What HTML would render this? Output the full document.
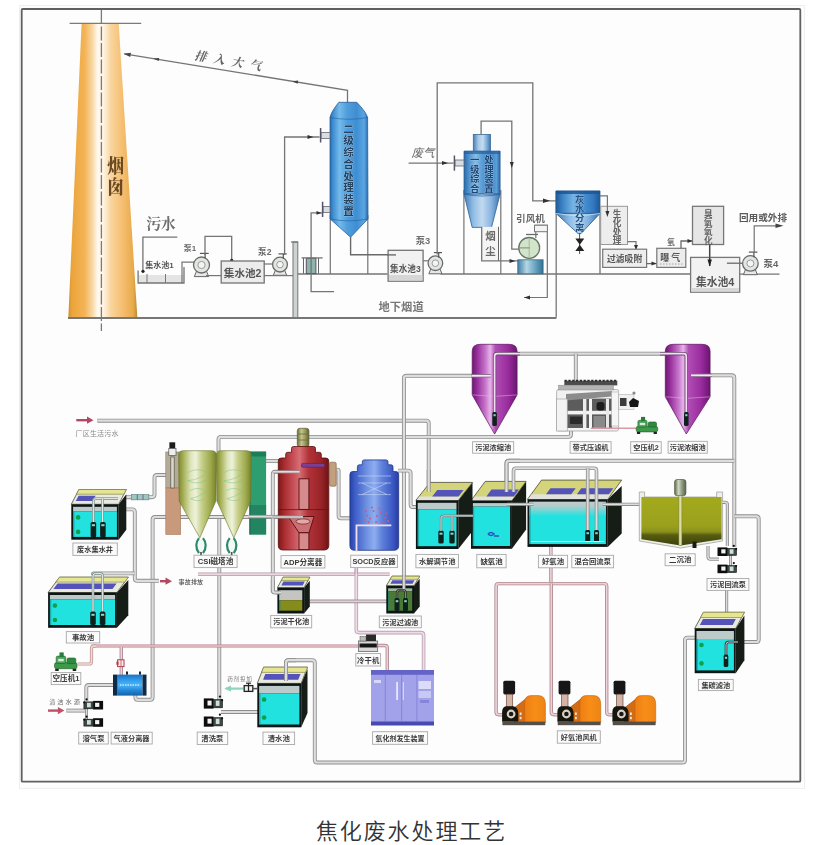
<!DOCTYPE html>
<html lang="zh-CN"><head><meta charset="utf-8"><title>焦化废水处理工艺</title>
<style>
html,body{margin:0;padding:0;background:#fff;}
body{width:838px;height:845px;overflow:hidden;position:relative;font-family:"Liberation Sans","Noto Sans CJK SC",sans-serif;}
#fig{position:absolute;left:0;top:0;width:838px;height:845px;display:block;}
#cap{position:absolute;left:0;top:815px;width:823px;text-align:center;font-size:22px;line-height:34px;letter-spacing:1.9px;color:#333;margin:0;font-weight:350;white-space:nowrap;}
</style></head><body>
<svg id="fig" width="838" height="845" viewBox="0 0 838 845">
<defs>
<filter id="soft" x="0" y="0" width="838" height="845" filterUnits="userSpaceOnUse"><feGaussianBlur stdDeviation="0.7"/></filter>
<linearGradient id="gCh" x1="0" y1="0" x2="1" y2="0"><stop offset="0" stop-color="#cf8f2c"/><stop offset="0.05" stop-color="#eba43a"/><stop offset="0.24" stop-color="#f3b458"/><stop offset="0.35" stop-color="#f9d9a6"/><stop offset="0.43" stop-color="#fffaf2"/><stop offset="0.51" stop-color="#fff3e2"/><stop offset="0.62" stop-color="#f9d49c"/><stop offset="0.8" stop-color="#f4bc6c"/><stop offset="0.94" stop-color="#e8aa4a"/><stop offset="1" stop-color="#b88a36"/></linearGradient>
<linearGradient id="gB1" x1="0" y1="0" x2="1" y2="0"><stop offset="0" stop-color="#2a6cb0"/><stop offset="0.08" stop-color="#3e8ed2"/><stop offset="0.25" stop-color="#74baea"/><stop offset="0.45" stop-color="#4f9edc"/><stop offset="0.7" stop-color="#3f8ed2"/><stop offset="0.9" stop-color="#5aa6e2"/><stop offset="1" stop-color="#2a6aae"/></linearGradient>
<linearGradient id="gB2" x1="0" y1="0" x2="1" y2="0"><stop offset="0" stop-color="#2a68a8"/><stop offset="0.12" stop-color="#4a8ecc"/><stop offset="0.32" stop-color="#86bce6"/><stop offset="0.5" stop-color="#5a9cd6"/><stop offset="0.75" stop-color="#3f86c8"/><stop offset="0.9" stop-color="#5a9ed8"/><stop offset="1" stop-color="#2a64a4"/></linearGradient>
<linearGradient id="gB2n" x1="0" y1="0" x2="1" y2="0"><stop offset="0" stop-color="#4a80b4"/><stop offset="0.3" stop-color="#a8cae6"/><stop offset="0.55" stop-color="#c4dcf0"/><stop offset="0.8" stop-color="#7aaad6"/><stop offset="1" stop-color="#3f76ac"/></linearGradient>
<linearGradient id="gB2c" x1="0" y1="0" x2="1" y2="0"><stop offset="0" stop-color="#3f7cb8"/><stop offset="0.25" stop-color="#8fbce4"/><stop offset="0.5" stop-color="#c2daf0"/><stop offset="0.75" stop-color="#8ab6e0"/><stop offset="1" stop-color="#3a74b0"/></linearGradient>
<linearGradient id="gFb" x1="0" y1="0" x2="1" y2="0"><stop offset="0" stop-color="#3f7fa4"/><stop offset="0.35" stop-color="#b4d6e4"/><stop offset="0.6" stop-color="#7ab2cc"/><stop offset="1" stop-color="#2f7296"/></linearGradient>
<linearGradient id="gB3" x1="0" y1="0" x2="1" y2="0"><stop offset="0" stop-color="#1f5c9a"/><stop offset="0.15" stop-color="#3c84c6"/><stop offset="0.4" stop-color="#78b4e4"/><stop offset="0.6" stop-color="#4c94d4"/><stop offset="0.85" stop-color="#3278be"/><stop offset="1" stop-color="#1e5896"/></linearGradient>
<linearGradient id="gB3c" x1="0" y1="0" x2="1" y2="0"><stop offset="0" stop-color="#3a78b6"/><stop offset="0.3" stop-color="#8cbce6"/><stop offset="0.5" stop-color="#b4d4f0"/><stop offset="0.75" stop-color="#7cb0e0"/><stop offset="1" stop-color="#3270ae"/></linearGradient>
<linearGradient id="gWg" x1="0" y1="0" x2="0" y2="1"><stop offset="0" stop-color="#c2cccc"/><stop offset="0.3" stop-color="#b4cccc"/><stop offset="1" stop-color="#24e2e0"/></linearGradient>
<linearGradient id="gHx" x1="0" y1="0" x2="0" y2="1"><stop offset="0" stop-color="#1a72c4"/><stop offset="0.3" stop-color="#34a0ee"/><stop offset="0.5" stop-color="#4cb4f6"/><stop offset="0.75" stop-color="#2488d8"/><stop offset="1" stop-color="#1660a8"/></linearGradient>
<linearGradient id="gCone" x1="0" y1="0" x2="1" y2="0"><stop offset="0" stop-color="#7e8a30"/><stop offset="0.12" stop-color="#a4ae54"/><stop offset="0.32" stop-color="#dde4b8"/><stop offset="0.45" stop-color="#eef2dc"/><stop offset="0.62" stop-color="#c6ce88"/><stop offset="0.84" stop-color="#9eaa4c"/><stop offset="1" stop-color="#76822a"/></linearGradient>
<linearGradient id="gRed" x1="0" y1="0" x2="1" y2="0"><stop offset="0" stop-color="#7a1818"/><stop offset="0.1" stop-color="#a42a2c"/><stop offset="0.3" stop-color="#c85058"/><stop offset="0.42" stop-color="#d66e74"/><stop offset="0.6" stop-color="#b23238"/><stop offset="0.85" stop-color="#982428"/><stop offset="1" stop-color="#701414"/></linearGradient>
<linearGradient id="gMot" x1="0" y1="0" x2="1" y2="0"><stop offset="0" stop-color="#6e6e3c"/><stop offset="0.35" stop-color="#c4c48c"/><stop offset="0.6" stop-color="#a4a464"/><stop offset="1" stop-color="#626234"/></linearGradient>
<linearGradient id="gBlu" x1="0" y1="0" x2="1" y2="0"><stop offset="0" stop-color="#2a42a6"/><stop offset="0.1" stop-color="#3c5cc6"/><stop offset="0.33" stop-color="#6c8ee0"/><stop offset="0.5" stop-color="#8eaef0"/><stop offset="0.66" stop-color="#5e80da"/><stop offset="0.88" stop-color="#3a58c4"/><stop offset="1" stop-color="#283e9e"/></linearGradient>
<linearGradient id="gPur" x1="0" y1="0" x2="1" y2="0"><stop offset="0" stop-color="#6e1a72"/><stop offset="0.1" stop-color="#932a98"/><stop offset="0.3" stop-color="#c878cc"/><stop offset="0.4" stop-color="#e6b4e8"/><stop offset="0.52" stop-color="#b04cb4"/><stop offset="0.8" stop-color="#9a2c9e"/><stop offset="1" stop-color="#6a1670"/></linearGradient>
<linearGradient id="gMo2" x1="0" y1="0" x2="1" y2="0"><stop offset="0" stop-color="#5e6a50"/><stop offset="0.35" stop-color="#cfd6c2"/><stop offset="0.6" stop-color="#98a488"/><stop offset="1" stop-color="#56624a"/></linearGradient>
<linearGradient id="gOl" x1="0" y1="0" x2="0" y2="1"><stop offset="0" stop-color="#a4aa1e"/><stop offset="0.6" stop-color="#9aa01c"/><stop offset="0.72" stop-color="#8a901a"/><stop offset="0.78" stop-color="#565c12"/><stop offset="1" stop-color="#3c420e"/></linearGradient>
<linearGradient id="gOr" x1="0" y1="0" x2="1" y2="0"><stop offset="0" stop-color="#ee7e12"/><stop offset="0.5" stop-color="#f88e18"/><stop offset="1" stop-color="#ee8414"/></linearGradient>
</defs>
<g filter="url(#soft)">
<rect x="19.5" y="5.5" width="785.1" height="782.9" fill="#fdfdfd" stroke="#eeeeee" stroke-width="1" />
<rect x="21.7" y="9.0" width="778.6" height="772.7" fill="none" stroke="#606062" stroke-width="1.8" rx="1"/>
<polygon points="81.6,23.4 118.7,23.4 137.4,318.4 68.3,318.4" fill="url(#gCh)" stroke="none" stroke-width="1" />
<polyline points="69.6,23.4 141.2,23.4" fill="none" stroke="#7a7a7a" stroke-width="1.2" />
<polyline points="101.4,10.0 101.4,331.0" fill="none" stroke="#7a7a7a" stroke-width="1.3" stroke-dasharray="14 2.5"/>
<polyline points="68.0,318.0 556.4,318.0" fill="none" stroke="#777" stroke-width="2" />
<g transform="translate(115.7 0) scale(0.86 1)">
<text font-size="19.5" fill="#6a4a22" text-anchor="middle" font-family='"Liberation Serif","Noto Serif CJK SC",serif' font-weight="900" ><tspan x="0.0" y="173.2">烟</tspan><tspan x="0.0" y="194.5">囱</tspan></text>
</g>
<polyline points="124.3,53.8 347.5,90.3 347.5,103.0" fill="none" stroke="#747474" stroke-width="1.3" />
<polygon points="123.6,53.7 130.9,52.7 130.2,57.0" fill="#444" stroke="none" stroke-width="1" />
<polygon points="153.0,58.5 159.2,57.9 158.7,61.0" fill="#444" stroke="none" stroke-width="1" />
<polygon points="292.0,81.2 298.2,80.6 297.7,83.7" fill="#444" stroke="none" stroke-width="1" />
<g transform="translate(194 59.5) rotate(9.3)">
<text x="0.0" y="0.0" font-size="12" fill="#666" text-anchor="start" font-family='"Liberation Serif","Noto Serif CJK SC",serif' font-weight="bold" letter-spacing="6.5" font-style="italic">排入大气</text>
</g>
<text x="146.3" y="229.0" font-size="15" fill="#6e6e6e" text-anchor="start" font-family='"Liberation Serif","Noto Serif CJK SC",serif' font-weight="bold" letter-spacing="-0.6">污水</text>
<polyline points="177.3,237.2 142.9,237.2 142.9,271.0" fill="none" stroke="#747474" stroke-width="1.3" />
<circle cx="143.0" cy="271.3" r="1.6" fill="#222" stroke="none" stroke-width="1" />
<rect x="138.5" y="275.0" width="45.0" height="8.0" fill="#e4e4e4" stroke="none" stroke-width="1" />
<polyline points="138.1,270.5 138.1,283.0 184.0,283.0 184.0,267.0" fill="none" stroke="#747474" stroke-width="1.3" />
<polyline points="147.0,274.0 147.0,283.0" fill="none" stroke="#777" stroke-width="1" />
<polyline points="165.5,274.0 165.5,283.0" fill="none" stroke="#777" stroke-width="1" />
<text x="159.5" y="268.0" font-size="8" fill="#555" text-anchor="middle" font-family='"Liberation Sans","Noto Sans CJK SC",sans-serif' font-weight="bold" >集水池1</text>
<polyline points="182.0,283.0 182.0,262.2 194.5,262.2" fill="none" stroke="#747474" stroke-width="1.2" />
<polygon points="194.3,276.6 208.7,276.6 205.9,269.8 197.1,269.8" fill="#e8e8e8" stroke="#666" stroke-width="1" />
<circle cx="201.5" cy="265.0" r="8.0" fill="#e2e6e2" stroke="#6a6a6a" stroke-width="1.3" />
<circle cx="201.5" cy="265.0" r="3.6" fill="#f4f4f4" stroke="#888" stroke-width="0.8" />
<polyline points="199.9,253.4 208.7,253.4" fill="none" stroke="#555" stroke-width="1.2" />
<polyline points="205.1,253.4 205.1,258.6" fill="none" stroke="#555" stroke-width="1.2" />
<text x="190.0" y="251.3" font-size="8" fill="#666" text-anchor="middle" font-family='"Liberation Sans","Noto Sans CJK SC",sans-serif' font-weight="bold" >泵1</text>
<polyline points="205.0,255.0 205.0,236.3 231.7,236.3 231.7,260.0" fill="none" stroke="#747474" stroke-width="1.3" />
<circle cx="231.7" cy="260.3" r="1.6" fill="#222" stroke="none" stroke-width="1" />
<polyline points="206.0,275.6 221.2,275.6" fill="none" stroke="#747474" stroke-width="1.2" />
<rect x="221.2" y="261.0" width="43.0" height="22.0" fill="#ececec" stroke="#747474" stroke-width="1.3" />
<text x="242.7" y="277.4" font-size="10.6" fill="#555" text-anchor="middle" font-family='"Liberation Sans","Noto Sans CJK SC",sans-serif' font-weight="bold" >集水池2</text>
<polyline points="264.2,264.0 272.5,264.0" fill="none" stroke="#747474" stroke-width="1.2" />
<polygon points="273.3,275.3 286.7,275.3 284.1,269.0 275.9,269.0" fill="#e8e8e8" stroke="#666" stroke-width="1" />
<circle cx="280.0" cy="264.6" r="7.4" fill="#e2e6e2" stroke="#6a6a6a" stroke-width="1.3" />
<circle cx="280.0" cy="264.6" r="3.3" fill="#f4f4f4" stroke="#888" stroke-width="0.8" />
<polyline points="278.5,253.9 286.7,253.9" fill="none" stroke="#555" stroke-width="1.2" />
<polyline points="283.3,253.9 283.3,258.7" fill="none" stroke="#555" stroke-width="1.2" />
<text x="264.8" y="254.8" font-size="8.6" fill="#6a6a6a" text-anchor="middle" font-family='"Liberation Sans","Noto Sans CJK SC",sans-serif' font-weight="bold" >泵2</text>
<polyline points="284.6,255.0 284.6,137.0 319.5,137.0" fill="none" stroke="#747474" stroke-width="1.3" />
<polygon points="313.5,137.0 307.5,139.0 307.5,135.0" fill="#333" stroke="none" stroke-width="1" />
<polyline points="264.2,275.6 293.0,275.6" fill="none" stroke="#747474" stroke-width="1.2" />
<rect x="293.0" y="242.0" width="4.8" height="75.5" fill="#cfd3d3" stroke="#777" stroke-width="1" />
<polyline points="291.0,242.0 298.0,242.0" fill="none" stroke="#747474" stroke-width="1.2" />
<polyline points="297.8,274.0 387.5,274.0" fill="none" stroke="#747474" stroke-width="1.3" />
<rect x="306.3" y="258.3" width="9.6" height="15.3" fill="#8fb3ad" stroke="#556" stroke-width="1" />
<polyline points="301.6,257.9 322.6,257.9" fill="none" stroke="#747474" stroke-width="1.3" />
<polyline points="303.5,258.0 303.5,273.6" fill="none" stroke="#666" stroke-width="1" />
<polyline points="318.5,258.0 318.5,273.6" fill="none" stroke="#666" stroke-width="1" />
<polyline points="322.7,212.9 311.1,212.9 311.1,291.7 334.0,291.7" fill="none" stroke="#747474" stroke-width="1.3" />
<polygon points="321.5,212.9 316.5,214.7 316.5,211.1" fill="#333" stroke="none" stroke-width="1" />
<polyline points="330.3,215.0 330.3,274.0" fill="none" stroke="#747474" stroke-width="1.2" />
<polyline points="367.8,215.0 367.8,274.0" fill="none" stroke="#747474" stroke-width="1.2" />
<path d="M330,117.5 Q331,112 338.8,102.3 L356.8,102.3 Q366,112 367.6,117.5 L368,218.8 L350.6,237.2 L330,218.8 Z" fill="url(#gB1)" stroke="#2a5f98" stroke-width="0.8" />
<path d="M330,117.5 Q349,121 367.6,117.5" fill="none" stroke="#1d5c9c" stroke-width="0.8" opacity="0.7"/>
<path d="M330,218.8 Q349,223 368,218.8" fill="none" stroke="#1d5c9c" stroke-width="0.8" opacity="0.7"/>
<text font-size="10.6" fill="#27425f" text-anchor="middle" font-family='"Liberation Sans","Noto Sans CJK SC",sans-serif' font-weight="bold" stroke="#b4d8f2" stroke-width="0.5" paint-order="stroke"><tspan x="348.5" y="132.7">二</tspan><tspan x="348.5" y="144.4">级</tspan><tspan x="348.5" y="156.2">综</tspan><tspan x="348.5" y="167.9">合</tspan><tspan x="348.5" y="179.7">处</tspan><tspan x="348.5" y="191.4">理</tspan><tspan x="348.5" y="203.2">装</tspan><tspan x="348.5" y="214.9">置</tspan></text>
<rect x="321.0" y="132.6" width="9.0" height="5.8" fill="#d8dde0" stroke="#667" stroke-width="0.8" />
<polyline points="320.6,128.0 320.6,142.5" fill="none" stroke="#556" stroke-width="1.5" />
<rect x="323.0" y="206.5" width="7.0" height="6.0" fill="#d8dde0" stroke="#667" stroke-width="0.8" />
<polyline points="322.6,201.7 322.6,217.0" fill="none" stroke="#556" stroke-width="1.5" />
<polyline points="350.6,237.0 350.6,254.8 395.0,254.8" fill="none" stroke="#6a6a6a" stroke-width="1.4" />
<rect x="388.1" y="250.3" width="35.0" height="30.9" fill="#f2f2f2" stroke="#747474" stroke-width="1.3" />
<rect x="389.0" y="275.0" width="33.4" height="5.6" fill="#d6d6d6" stroke="none" stroke-width="1" />
<text x="405.4" y="271.8" font-size="8.6" fill="#555" text-anchor="middle" font-family='"Liberation Sans","Noto Sans CJK SC",sans-serif' font-weight="bold" >集水池3</text>
<polyline points="387.0,254.9 396.0,254.9" fill="none" stroke="#6a6a6a" stroke-width="1.4" />
<polyline points="423.1,260.8 428.5,260.8" fill="none" stroke="#747474" stroke-width="1.2" />
<polygon points="428.8,273.8 442.0,273.8 439.4,267.6 431.4,267.6" fill="#e8e8e8" stroke="#666" stroke-width="1" />
<circle cx="435.4" cy="263.2" r="7.3" fill="#e2e6e2" stroke="#6a6a6a" stroke-width="1.3" />
<circle cx="435.4" cy="263.2" r="3.3" fill="#f4f4f4" stroke="#888" stroke-width="0.8" />
<polyline points="433.9,252.6 442.0,252.6" fill="none" stroke="#555" stroke-width="1.2" />
<polyline points="438.7,252.6 438.7,257.4" fill="none" stroke="#555" stroke-width="1.2" />
<text x="423.0" y="243.6" font-size="9.4" fill="#707070" text-anchor="middle" font-family='"Liberation Sans","Noto Sans CJK SC",sans-serif' font-weight="bold" >泵3</text>
<polyline points="437.2,254.5 437.2,82.9 532.8,82.9 532.8,200.8 556.0,200.8" fill="none" stroke="#747474" stroke-width="1.3" />
<polygon points="550.0,200.8 543.0,203.0 543.0,198.6" fill="#333" stroke="none" stroke-width="1" />
<polyline points="440.6,274.0 690.6,274.0" fill="none" stroke="#747474" stroke-width="1.3" />
<text x="378.5" y="310.6" font-size="11.3" fill="#777" text-anchor="start" font-family='"Liberation Sans","Noto Sans CJK SC",sans-serif' font-weight="bold" >地下烟道</text>
<text x="411.5" y="157.3" font-size="11.5" fill="#666" text-anchor="start" font-family='"Liberation Sans","Noto Sans CJK SC",sans-serif' font-weight="normal" font-style="italic">废气</text>
<polyline points="408.6,163.1 453.5,163.1" fill="none" stroke="#747474" stroke-width="1.2" />
<polygon points="448.0,163.1 442.0,165.1 442.0,161.1" fill="#333" stroke="none" stroke-width="1" />
<polyline points="463.9,190.0 463.9,274.0" fill="none" stroke="#747474" stroke-width="1.2" />
<polyline points="500.8,190.0 500.8,274.0" fill="none" stroke="#747474" stroke-width="1.2" />
<rect x="473.3" y="134.4" width="17.2" height="17.6" fill="url(#gB2n)" stroke="#3a6a98" stroke-width="0.8" />
<path d="M464,151.1 L500.1,151.1 L500.1,194.1 L464,194.1 Z" fill="url(#gB2)" stroke="#2f6298" stroke-width="0.8" />
<rect x="464.0" y="151.1" width="36.1" height="2.9" fill="#24609e" stroke="none" stroke-width="1" opacity="0.7"/>
<path d="M464,194.1 L500.1,194.1 L491.5,227.4 L472.2,227.4 Z" fill="url(#gB2c)" stroke="#2f6298" stroke-width="0.8" />
<path d="M464,194.1 Q482,198 500.1,194.1" fill="none" stroke="#2a5c94" stroke-width="0.9" opacity="0.8"/>
<text font-size="9.4" fill="#1f4674" text-anchor="middle" font-family='"Liberation Sans","Noto Sans CJK SC",sans-serif' font-weight="bold" stroke="#a9d0ee" stroke-width="0.5" paint-order="stroke"><tspan x="474.8" y="163.4">一</tspan><tspan x="474.8" y="172.9">级</tspan><tspan x="474.8" y="182.4">综</tspan><tspan x="474.8" y="191.9">合</tspan></text>
<text font-size="9.4" fill="#1f4674" text-anchor="middle" font-family='"Liberation Sans","Noto Sans CJK SC",sans-serif' font-weight="bold" stroke="#a9d0ee" stroke-width="0.5" paint-order="stroke"><tspan x="489.0" y="163.4">处</tspan><tspan x="489.0" y="172.9">理</tspan><tspan x="489.0" y="182.4">装</tspan><tspan x="489.0" y="191.9">置</tspan></text>
<rect x="455.0" y="160.0" width="9.0" height="6.0" fill="#d8dde0" stroke="#667" stroke-width="0.8" />
<polyline points="454.4,155.5 454.4,170.7" fill="none" stroke="#556" stroke-width="1.5" />
<polyline points="481.1,134.4 481.1,121.1 511.8,121.1 511.8,249.2 519.0,249.2" fill="none" stroke="#747474" stroke-width="1.3" />
<polygon points="511.8,168.0 509.8,162.0 513.8,162.0" fill="#333" stroke="none" stroke-width="1" />
<rect x="481.7" y="226.8" width="16.6" height="33.4" fill="#f4f4f4" stroke="none" stroke-width="1" />
<polyline points="481.7,226.8 481.7,260.8 519.0,260.8" fill="none" stroke="#747474" stroke-width="1.3" />
<polyline points="498.5,226.8 498.5,260.8" fill="none" stroke="#666" stroke-width="1" />
<polygon points="515.5,261.0 509.5,263.0 509.5,259.0" fill="#333" stroke="none" stroke-width="1" />
<text font-size="10.5" fill="#6a6a6a" text-anchor="middle" font-family='"Liberation Sans","Noto Sans CJK SC",sans-serif' font-weight="bold" ><tspan x="490.4" y="240.2">烟</tspan><tspan x="490.4" y="255.2">尘</tspan></text>
<text x="530.5" y="221.5" font-size="9.6" fill="#666" text-anchor="middle" font-family='"Liberation Sans","Noto Sans CJK SC",sans-serif' font-weight="bold" >引风机</text>
<polyline points="535.8,238.0 535.8,225.4 547.3,225.4 547.3,297.5 524.0,297.5" fill="none" stroke="#747474" stroke-width="1.2" />
<polygon points="524.0,297.5 530.0,295.5 530.0,299.5" fill="#333" stroke="none" stroke-width="1" />
<polyline points="526.0,234.5 538.0,234.5" fill="none" stroke="#6a6a6a" stroke-width="1.3" />
<rect x="517.8" y="259.8" width="25.3" height="14.0" fill="url(#gFb)" stroke="#3a6a80" stroke-width="0.8" />
<rect x="534.5" y="225.2" width="12.9" height="6.5" fill="#f4f4f4" stroke="#777" stroke-width="1" />
<circle cx="529.2" cy="247.9" r="10.4" fill="#d2e5cb" stroke="#667766" stroke-width="1.3" />
<polyline points="519.0,247.9 530.0,247.9" fill="none" stroke="#7a8a78" stroke-width="1" />
<polyline points="529.2,239.0 529.2,257.0" fill="none" stroke="#9aaa98" stroke-width="0.8" />
<polyline points="556.2,191.0 556.2,317.6" fill="none" stroke="#777" stroke-width="1.3" />
<polyline points="600.0,213.0 600.0,274.0" fill="none" stroke="#747474" stroke-width="1.3" />
<path d="M556,190.9 L600,190.9 L600,213.4 L556,213.4 Z" fill="url(#gB3)" stroke="#245a92" stroke-width="0.8" />
<rect x="556.0" y="190.9" width="44.0" height="3.1" fill="#1c5490" stroke="none" stroke-width="1" opacity="0.8"/>
<path d="M556,213.4 L600,213.4 L581,233.6 L578,233.6 Z" fill="url(#gB3c)" stroke="#245a92" stroke-width="0.8" />
<path d="M556,213.4 Q578,217.5 600,213.4" fill="none" stroke="#d6eafa" stroke-width="0.9" opacity="0.8"/>
<text font-size="9.4" fill="#24507f" text-anchor="middle" font-family='"Liberation Sans","Noto Sans CJK SC",sans-serif' font-weight="bold" stroke="#a9d0ee" stroke-width="0.5" paint-order="stroke"><tspan x="579.6" y="202.6">灰</tspan><tspan x="579.6" y="211.9">水</tspan><tspan x="579.6" y="221.2">分</tspan><tspan x="579.6" y="230.5">离</tspan></text>
<polyline points="579.6,233.0 579.6,254.0" fill="none" stroke="#555" stroke-width="1" />
<polygon points="575.3,238.6 584.3,238.6 579.8,244.8" fill="#222" stroke="none" stroke-width="1" />
<polygon points="575.3,251.0 584.3,251.0 579.8,244.8" fill="#222" stroke="none" stroke-width="1" />
<rect x="600.7" y="206.3" width="26.8" height="38.2" fill="#ededed" stroke="#999" stroke-width="1" />
<text font-size="8.6" fill="#666" text-anchor="middle" font-family='"Liberation Sans","Noto Sans CJK SC",sans-serif' font-weight="bold" ><tspan x="617.0" y="216.5">生</tspan><tspan x="617.0" y="225.5">化</tspan><tspan x="617.0" y="234.5">处</tspan><tspan x="617.0" y="243.5">理</tspan></text>
<polyline points="600.0,195.8 607.4,195.8 607.4,213.0" fill="none" stroke="#747474" stroke-width="1.2" />
<polygon points="607.4,217.0 605.4,211.0 609.4,211.0" fill="#333" stroke="none" stroke-width="1" />
<polyline points="627.5,241.6 636.0,241.6 636.0,249.2" fill="none" stroke="#747474" stroke-width="1.2" />
<polygon points="636.0,250.0 634.0,245.0 638.0,245.0" fill="#333" stroke="none" stroke-width="1" />
<rect x="602.7" y="249.2" width="43.9" height="18.2" fill="#ededed" stroke="#777" stroke-width="1.2" />
<text x="624.6" y="262.0" font-size="8.8" fill="#555" text-anchor="middle" font-family='"Liberation Sans","Noto Sans CJK SC",sans-serif' font-weight="bold" >过滤吸附</text>
<polyline points="646.6,263.6 656.8,263.6" fill="none" stroke="#6a6a6a" stroke-width="1.3" />
<polygon points="656.5,263.6 651.5,265.6 651.5,261.6" fill="#333" stroke="none" stroke-width="1" />
<rect x="656.8" y="248.3" width="29.0" height="19.1" fill="#ececec" stroke="#777" stroke-width="1.2" />
<text x="671.3" y="260.8" font-size="9" fill="#555" text-anchor="middle" font-family='"Liberation Sans","Noto Sans CJK SC",sans-serif' font-weight="bold" letter-spacing="2">曝气</text>
<polyline points="660.0,264.0 683.0,264.0" fill="none" stroke="#999" stroke-width="0.8" stroke-dasharray="1.5 1.5"/>
<text x="671.0" y="245.0" font-size="7.5" fill="#666" text-anchor="middle" font-family='"Liberation Sans","Noto Sans CJK SC",sans-serif' font-weight="bold" >氧</text>
<polyline points="681.0,248.3 681.0,241.0 692.5,241.0" fill="none" stroke="#6a6a6a" stroke-width="1.3" />
<polygon points="692.5,241.0 687.5,243.0 687.5,239.0" fill="#333" stroke="none" stroke-width="1" />
<rect x="692.5" y="206.3" width="31.1" height="38.2" fill="#e6e6e6" stroke="#777" stroke-width="1.3" />
<text font-size="8.6" fill="#666" text-anchor="middle" font-family='"Liberation Sans","Noto Sans CJK SC",sans-serif' font-weight="bold" ><tspan x="708.4" y="216.8">臭</tspan><tspan x="708.4" y="225.7">氧</tspan><tspan x="708.4" y="234.6">氧</tspan><tspan x="708.4" y="243.5">化</tspan></text>
<polyline points="709.7,244.5 709.7,262.0" fill="none" stroke="#444" stroke-width="1.5" />
<polygon points="709.7,266.0 707.5,259.0 711.9,259.0" fill="#222" stroke="none" stroke-width="1" />
<rect x="690.6" y="257.4" width="49.1" height="34.8" fill="#f2f2f2" stroke="#777" stroke-width="1.3" />
<rect x="691.4" y="288.0" width="47.6" height="3.6" fill="#d8d8d8" stroke="none" stroke-width="1" />
<text x="715.2" y="285.6" font-size="10.8" fill="#555" text-anchor="middle" font-family='"Liberation Sans","Noto Sans CJK SC",sans-serif' font-weight="bold" >集水池4</text>
<polyline points="709.7,257.4 709.7,266.0" fill="none" stroke="#333" stroke-width="1.5" />
<polygon points="709.7,266.5 707.5,259.5 711.9,259.5" fill="#222" stroke="none" stroke-width="1" />
<polyline points="726.9,263.2 743.1,263.2" fill="none" stroke="#6a6a6a" stroke-width="1.3" />
<polyline points="739.7,274.1 779.5,274.1" fill="none" stroke="#747474" stroke-width="1.3" />
<polygon points="743.4,274.7 757.4,274.7 754.7,268.1 746.1,268.1" fill="#e8e8e8" stroke="#666" stroke-width="1" />
<circle cx="750.4" cy="263.4" r="7.8" fill="#e2e6e2" stroke="#6a6a6a" stroke-width="1.3" />
<circle cx="750.4" cy="263.4" r="3.5" fill="#f4f4f4" stroke="#888" stroke-width="0.8" />
<polyline points="748.8,252.1 757.4,252.1" fill="none" stroke="#555" stroke-width="1.2" />
<polyline points="753.9,252.1 753.9,257.2" fill="none" stroke="#555" stroke-width="1.2" />
<text x="771.0" y="267.0" font-size="9.5" fill="#666" text-anchor="middle" font-family='"Liberation Sans","Noto Sans CJK SC",sans-serif' font-weight="bold" >泵4</text>
<polyline points="754.2,253.0 754.2,225.8 780.0,225.8" fill="none" stroke="#747474" stroke-width="1.2" />
<polygon points="783.5,225.8 775.5,228.0 775.5,223.6" fill="#444" stroke="none" stroke-width="1" />
<text x="763.0" y="221.3" font-size="9.6" fill="#5a5a5a" text-anchor="middle" font-family='"Liberation Sans","Noto Sans CJK SC",sans-serif' font-weight="bold" >回用或外排</text>
<polyline points="76.3,420.2 88.5,420.2" fill="none" stroke="#b24a62" stroke-width="2.4" />
<polygon points="93.5,420.2 87.0,416.6 87.0,423.8" fill="#b24a62" stroke="none" stroke-width="1" />
<path d="M97.3,420.7 L426.1,420.7 Q428.7,420.7 428.7,423.3 L428.7,492.0" fill="none" stroke="#8e8e8e" stroke-width="3.9"/>
<path d="M97.3,420.7 L426.1,420.7 Q428.7,420.7 428.7,423.3 L428.7,492.0" fill="none" stroke="#dddddd" stroke-width="2.2"/>
<text x="75.5" y="435.8" font-size="7" fill="#8a8a8a" text-anchor="start" font-family='"Liberation Sans","Noto Sans CJK SC",sans-serif' font-weight="normal" letter-spacing="0.2">厂区生活污水</text>
<path d="M218.5,452.0 L218.5,439.5 Q218.5,436.9 221.1,436.9 L568.4,436.9 Q571.0,436.9 571.0,434.3 L571.0,419.7" fill="none" stroke="#8e8e8e" stroke-width="3.9"/>
<path d="M218.5,452.0 L218.5,439.5 Q218.5,436.9 221.1,436.9 L568.4,436.9 Q571.0,436.9 571.0,434.3 L571.0,419.7" fill="none" stroke="#dddddd" stroke-width="2.2"/>
<path d="M403.9,589.0 L403.9,378.4 Q403.9,375.8 406.5,375.8 L491.0,375.8" fill="none" stroke="#8e8e8e" stroke-width="3.9"/>
<path d="M403.9,589.0 L403.9,378.4 Q403.9,375.8 406.5,375.8 L491.0,375.8" fill="none" stroke="#dddddd" stroke-width="2.2"/>
<path d="M494.6,425.0 L494.6,356.3 Q494.6,353.7 497.2,353.7 L683.7,353.7 Q686.3,353.7 686.3,356.3 L686.3,425.0" fill="none" stroke="#8e8e8e" stroke-width="3.9"/>
<path d="M494.6,425.0 L494.6,356.3 Q494.6,353.7 497.2,353.7 L683.7,353.7 Q686.3,353.7 686.3,356.3 L686.3,425.0" fill="none" stroke="#dddddd" stroke-width="2.2"/>
<path d="M575.8,353.7 L575.8,382.0" fill="none" stroke="#8e8e8e" stroke-width="3.9"/>
<path d="M575.8,353.7 L575.8,382.0" fill="none" stroke="#dddddd" stroke-width="2.2"/>
<path d="M691.0,375.3 L731.7,375.3 Q734.3,375.3 734.3,377.9 L734.3,547.0" fill="none" stroke="#8e8e8e" stroke-width="3.9"/>
<path d="M691.0,375.3 L731.7,375.3 Q734.3,375.3 734.3,377.9 L734.3,547.0" fill="none" stroke="#dddddd" stroke-width="2.2"/>
<path d="M506.5,492.0 L506.5,463.4 Q506.5,460.8 509.1,460.8 L734.3,460.8" fill="none" stroke="#8e8e8e" stroke-width="3.9"/>
<path d="M506.5,492.0 L506.5,463.4 Q506.5,460.8 509.1,460.8 L734.3,460.8" fill="none" stroke="#dddddd" stroke-width="2.2"/>
<path d="M734.3,516.3 L756.1,516.3 Q758.7,516.3 758.7,518.9 L758.7,639.4 Q758.7,642.0 756.1,642.0 L729.6,642.0 Q727.0,642.0 727.0,644.6 L727.0,655.0" fill="none" stroke="#8e8e8e" stroke-width="3.9"/>
<path d="M734.3,516.3 L756.1,516.3 Q758.7,516.3 758.7,518.9 L758.7,639.4 Q758.7,642.0 756.1,642.0 L729.6,642.0 Q727.0,642.0 727.0,644.6 L727.0,655.0" fill="none" stroke="#dddddd" stroke-width="2.2"/>
<path d="M300.0,517.0 L155.2,517.0 Q152.6,517.0 152.6,519.6 L152.6,697.2 Q152.6,699.8 150.0,699.8 L138.0,699.8 Q135.4,699.8 135.4,697.2 L135.4,693.0" fill="none" stroke="#8e8e8e" stroke-width="3.9"/>
<path d="M300.0,517.0 L155.2,517.0 Q152.6,517.0 152.6,519.6 L152.6,697.2 Q152.6,699.8 150.0,699.8 L138.0,699.8 Q135.4,699.8 135.4,697.2 L135.4,693.0" fill="none" stroke="#dddddd" stroke-width="2.2"/>
<path d="M219.3,519.0 L219.3,701.0" fill="none" stroke="#8e8e8e" stroke-width="3.9"/>
<path d="M219.3,519.0 L219.3,701.0" fill="none" stroke="#dddddd" stroke-width="2.2"/>
<path d="M272.8,592.5 L272.8,474.4 Q272.8,471.8 275.4,471.8 L292.0,471.8" fill="none" stroke="#8e8e8e" stroke-width="3.9"/>
<path d="M272.8,592.5 L272.8,474.4 Q272.8,471.8 275.4,471.8 L292.0,471.8" fill="none" stroke="#dddddd" stroke-width="2.2"/>
<path d="M266.0,460.9 L281.0,460.9" fill="none" stroke="#8e8e8e" stroke-width="3.9"/>
<path d="M266.0,460.9 L281.0,460.9" fill="none" stroke="#dddddd" stroke-width="2.2"/>
<path d="M125.9,497.2 L151.9,497.2 Q154.5,497.2 154.5,494.6 L154.5,477.6 Q154.5,475.0 157.1,475.0 L166.0,475.0" fill="none" stroke="#8e8e8e" stroke-width="3.9"/>
<path d="M125.9,497.2 L151.9,497.2 Q154.5,497.2 154.5,494.6 L154.5,477.6 Q154.5,475.0 157.1,475.0 L166.0,475.0" fill="none" stroke="#dddddd" stroke-width="2.2"/>
<rect x="131.6" y="494.6" width="17.2" height="5.2" fill="#9fc6c0" stroke="#6a8a88" stroke-width="0.7" />
<polyline points="137.3,494.6 137.3,499.8" fill="none" stroke="#557" stroke-width="0.8" />
<polyline points="143.0,494.6 143.0,499.8" fill="none" stroke="#557" stroke-width="0.8" />
<path d="M118.7,509.4 L132.2,509.4 Q134.8,509.4 134.8,512.0 L134.8,578.2 Q134.8,580.8 137.4,580.8 L158.8,580.8" fill="none" stroke="#8e8e8e" stroke-width="3.9"/>
<path d="M118.7,509.4 L132.2,509.4 Q134.8,509.4 134.8,512.0 L134.8,578.2 Q134.8,580.8 137.4,580.8 L158.8,580.8" fill="none" stroke="#dddddd" stroke-width="2.2"/>
<path d="M93.0,575.0 L93.0,574.2 Q93.0,573.4 93.8,573.4 L134.8,573.4" fill="none" stroke="#8e8e8e" stroke-width="3.9"/>
<path d="M93.0,575.0 L93.0,574.2 Q93.0,573.4 93.8,573.4 L134.8,573.4" fill="none" stroke="#dddddd" stroke-width="2.2"/>
<polyline points="160.0,581.2 167.0,581.2" fill="none" stroke="#b24a62" stroke-width="2.4" />
<polygon points="172.0,581.2 165.5,577.6 165.5,584.8" fill="#b24a62" stroke="none" stroke-width="1" />
<text x="178.5" y="584.2" font-size="6" fill="#333" text-anchor="start" font-family='"Liberation Sans","Noto Sans CJK SC",sans-serif' font-weight="normal" letter-spacing="0.2">事故排放</text>
<path d="M336.4,469.6 L337.5,469.6 Q338.6,469.6 338.6,470.7 L338.6,515.7 Q338.6,518.3 341.2,518.3 L351.0,518.3" fill="none" stroke="#8e8e8e" stroke-width="3.9"/>
<path d="M336.4,469.6 L337.5,469.6 Q338.6,469.6 338.6,470.7 L338.6,515.7 Q338.6,518.3 341.2,518.3 L351.0,518.3" fill="none" stroke="#dddddd" stroke-width="2.2"/>
<path d="M398.0,470.6 L408.0,470.6 Q410.6,470.6 410.6,473.2 L410.6,504.4 Q410.6,507.0 413.2,507.0 L420.0,507.0" fill="none" stroke="#8e8e8e" stroke-width="3.9"/>
<path d="M398.0,470.6 L408.0,470.6 Q410.6,470.6 410.6,473.2 L410.6,504.4 Q410.6,507.0 413.2,507.0 L420.0,507.0" fill="none" stroke="#dddddd" stroke-width="2.2"/>
<path d="M198.0,574.2 L389.5,574.2" fill="none" stroke="#b89aa8" stroke-width="3.6"/>
<path d="M198.0,574.2 L389.5,574.2" fill="none" stroke="#ecd6e0" stroke-width="1.9"/>
<path d="M356.3,568.6 L356.3,630.0 Q356.3,632.6 358.9,632.6 L421.0,632.6 Q423.6,632.6 423.6,635.2 L423.6,670.0" fill="none" stroke="#bca2b4" stroke-width="3.6"/>
<path d="M356.3,568.6 L356.3,630.0 Q356.3,632.6 358.9,632.6 L421.0,632.6 Q423.6,632.6 423.6,635.2 L423.6,670.0" fill="none" stroke="#efdce8" stroke-width="1.9"/>
<path d="M91.5,646.0 L360.0,646.0" fill="none" stroke="#b87e8c" stroke-width="3.2"/>
<path d="M91.5,646.0 L360.0,646.0" fill="none" stroke="#efc6ce" stroke-width="1.5"/>
<path d="M77.7,664.0 L88.9,664.0 Q91.5,664.0 91.5,661.4 L91.5,648.2 Q91.5,646.0 93.8,646.0 L96.0,646.0" fill="none" stroke="#c09a94" stroke-width="3.2"/>
<path d="M77.7,664.0 L88.9,664.0 Q91.5,664.0 91.5,661.4 L91.5,648.2 Q91.5,646.0 93.8,646.0 L96.0,646.0" fill="none" stroke="#f2dcd6" stroke-width="1.5"/>
<path d="M377.7,645.5 L384.7,645.5 Q387.3,645.5 387.3,648.1 L387.3,670.0" fill="none" stroke="#b08890" stroke-width="3.4"/>
<path d="M377.7,645.5 L384.7,645.5 Q387.3,645.5 387.3,648.1 L387.3,670.0" fill="none" stroke="#ecd2d8" stroke-width="1.7"/>
<path d="M121.3,647.0 L121.3,675.0" fill="none" stroke="#b08890" stroke-width="3.4"/>
<path d="M121.3,647.0 L121.3,675.0" fill="none" stroke="#ecd2d8" stroke-width="1.7"/>
<path d="M305.0,601.4 L387.3,601.4" fill="none" stroke="#a0929a" stroke-width="3.6"/>
<path d="M305.0,601.4 L387.3,601.4" fill="none" stroke="#ded2d8" stroke-width="1.9"/>
<path d="M550.9,542.0 L550.9,583.6" fill="none" stroke="#b08890" stroke-width="3.4"/>
<path d="M550.9,542.0 L550.9,583.6" fill="none" stroke="#ecd2d8" stroke-width="1.7"/>
<path d="M503.6,714.7 L498.7,714.7 Q496.1,714.7 496.1,712.1 L496.1,586.2 Q496.1,583.6 498.7,583.6 L604.1,583.6 Q606.7,583.6 606.7,586.2 L606.7,712.1 Q606.7,714.7 609.3,714.7 L613.5,714.7" fill="none" stroke="#b08890" stroke-width="3.4"/>
<path d="M503.6,714.7 L498.7,714.7 Q496.1,714.7 496.1,712.1 L496.1,586.2 Q496.1,583.6 498.7,583.6 L604.1,583.6 Q606.7,583.6 606.7,586.2 L606.7,712.1 Q606.7,714.7 609.3,714.7 L613.5,714.7" fill="none" stroke="#ecd2d8" stroke-width="1.7"/>
<path d="M551.3,583.6 L551.3,712.1 Q551.3,714.7 553.9,714.7 L558.4,714.7" fill="none" stroke="#b08890" stroke-width="3.4"/>
<path d="M551.3,583.6 L551.3,712.1 Q551.3,714.7 553.9,714.7 L558.4,714.7" fill="none" stroke="#ecd2d8" stroke-width="1.7"/>
<path d="M286.0,678.0 L286.0,662.8 Q286.0,660.2 288.6,660.2 L312.2,660.2 Q314.8,660.2 314.8,662.8 L314.8,759.9 Q314.8,762.5 317.4,762.5 L682.4,762.5 Q685.0,762.5 685.0,759.9 L685.0,640.3 Q685.0,637.7 687.6,637.7 L696.0,637.7" fill="none" stroke="#8e8e8e" stroke-width="3.9"/>
<path d="M286.0,678.0 L286.0,662.8 Q286.0,660.2 288.6,660.2 L312.2,660.2 Q314.8,660.2 314.8,662.8 L314.8,759.9 Q314.8,762.5 317.4,762.5 L682.4,762.5 Q685.0,762.5 685.0,759.9 L685.0,640.3 Q685.0,637.7 687.6,637.7 L696.0,637.7" fill="none" stroke="#dddddd" stroke-width="2.2"/>
<path d="M221.0,712.0 L258.0,712.0" fill="none" stroke="#8e8e8e" stroke-width="3.9"/>
<path d="M221.0,712.0 L258.0,712.0" fill="none" stroke="#dddddd" stroke-width="2.2"/>
<path d="M113.0,685.0 L88.9,685.0 Q86.3,685.0 86.3,687.6 L86.3,701.0" fill="none" stroke="#8e8e8e" stroke-width="3.9"/>
<path d="M113.0,685.0 L88.9,685.0 Q86.3,685.0 86.3,687.6 L86.3,701.0" fill="none" stroke="#dddddd" stroke-width="2.2"/>
<path d="M66.3,710.6 L85.4,710.6" fill="none" stroke="#8e8e8e" stroke-width="3.9"/>
<path d="M66.3,710.6 L85.4,710.6" fill="none" stroke="#dddddd" stroke-width="2.2"/>
<polyline points="48.0,710.6 59.4,710.6" fill="none" stroke="#c05068" stroke-width="2.4" />
<polygon points="64.4,710.6 57.9,707.0 57.9,714.2" fill="#c05068" stroke="none" stroke-width="1" />
<text x="49.2" y="704.0" font-size="6.2" fill="#666" text-anchor="start" font-family='"Liberation Sans","Noto Sans CJK SC",sans-serif' font-weight="normal" letter-spacing="2">清洁水源</text>
<polygon points="118.7,504.3 126.3,494.3 126.3,529.7 118.7,539.7" fill="#161c18" stroke="none" stroke-width="1" />
<polygon points="71.3,504.3 78.9,489.5 126.3,489.5 118.7,504.3" fill="#e9e9de" stroke="#4a4a38" stroke-width="0.8" />
<polygon points="76.5,494.2 78.9,489.5 126.3,489.5 123.9,494.2" fill="#e6e690" stroke="#7a7a40" stroke-width="0.6" />
<polygon points="75.8,501.0 78.6,495.7 95.6,495.7 92.9,501.0" fill="#5252ba" stroke="none" stroke-width="1" />
<rect x="71.3" y="504.3" width="47.4" height="35.4" fill="#0c1412" stroke="none" stroke-width="1" />
<rect x="73.1" y="506.8" width="43.8" height="4.5" fill="#bccaca" stroke="none" stroke-width="1" />
<rect x="73.1" y="511.3" width="43.8" height="25.6" fill="#24e2e0" stroke="none" stroke-width="1" />
<rect x="73.1" y="511.3" width="1.4" height="25.6" fill="#178a8a" stroke="none" stroke-width="1" opacity="0.6"/>
<circle cx="78.1" cy="517.4" r="2.3" fill="#10a050" stroke="none" stroke-width="1" />
<circle cx="78.1" cy="531.9" r="2.3" fill="#10a050" stroke="none" stroke-width="1" />
<path d="M93.4,522.0 L93.4,501.2 Q93.4,498.6 96.0,498.6 L118.0,498.6" fill="none" stroke="#8a9a98" stroke-width="2.6"/>
<path d="M93.4,522.0 L93.4,501.2 Q93.4,498.6 96.0,498.6 L118.0,498.6" fill="none" stroke="#eef4f4" stroke-width="0.9"/>
<path d="M102.5,522.0 L102.5,498.6" fill="none" stroke="#8a9a98" stroke-width="2.6"/>
<path d="M102.5,522.0 L102.5,498.6" fill="none" stroke="#eef4f4" stroke-width="0.9"/>
<rect x="90.6" y="522.0" width="5.6" height="15.3" fill="#10241e" stroke="none" stroke-width="1" rx="1.6"/>
<rect x="91.8" y="524.2" width="3.2" height="2.0" fill="#7fd8cf" stroke="none" stroke-width="1" />
<rect x="100.1" y="522.0" width="5.6" height="15.3" fill="#10241e" stroke="none" stroke-width="1" rx="1.6"/>
<rect x="101.3" y="524.2" width="3.2" height="2.0" fill="#7fd8cf" stroke="none" stroke-width="1" />
<rect x="72.9" y="543.0" width="44.4" height="12.4" fill="#fbfbfb" stroke="#a8a8a8" stroke-width="0.9" />
<text x="95.1" y="551.8" font-size="7.2" fill="#3a3a3a" text-anchor="middle" font-family='"Liberation Sans","Noto Sans CJK SC",sans-serif' font-weight="bold" >废水集水井</text>
<polygon points="116.9,592.5 128.3,580.0 128.3,615.3 116.9,627.8" fill="#161c18" stroke="none" stroke-width="1" />
<polygon points="48.1,592.5 59.5,577.2 128.3,577.2 116.9,592.5" fill="#e9e9de" stroke="#4a4a38" stroke-width="0.8" />
<polygon points="55.9,582.1 59.5,577.2 128.3,577.2 124.7,582.1" fill="#e6e690" stroke="#7a7a40" stroke-width="0.6" />
<polygon points="53.4,589.1 57.5,583.6 116.6,583.6 112.5,589.1" fill="#5252ba" stroke="none" stroke-width="1" />
<rect x="48.1" y="592.5" width="68.8" height="35.3" fill="#0c1412" stroke="none" stroke-width="1" />
<rect x="49.9" y="595.0" width="65.2" height="4.5" fill="#bccaca" stroke="none" stroke-width="1" />
<rect x="49.9" y="599.5" width="65.2" height="25.5" fill="#24e2e0" stroke="none" stroke-width="1" />
<rect x="49.9" y="599.5" width="1.4" height="25.5" fill="#178a8a" stroke="none" stroke-width="1" opacity="0.6"/>
<circle cx="54.9" cy="605.6" r="2.3" fill="#10a050" stroke="none" stroke-width="1" />
<circle cx="54.9" cy="620.0" r="2.3" fill="#10a050" stroke="none" stroke-width="1" />
<path d="M93.0,612.0 L93.0,576.0 Q93.0,573.4 95.6,573.4 L100.0,573.4 Q102.6,573.4 102.6,576.0 L102.6,612.0" fill="none" stroke="#8a9a98" stroke-width="2.6"/>
<path d="M93.0,612.0 L93.0,576.0 Q93.0,573.4 95.6,573.4 L100.0,573.4 Q102.6,573.4 102.6,576.0 L102.6,612.0" fill="none" stroke="#eef4f4" stroke-width="0.9"/>
<rect x="90.2" y="611.6" width="5.6" height="13.4" fill="#10241e" stroke="none" stroke-width="1" rx="1.6"/>
<rect x="91.4" y="613.8" width="3.2" height="2.0" fill="#7fd8cf" stroke="none" stroke-width="1" />
<rect x="99.8" y="611.6" width="5.6" height="13.4" fill="#10241e" stroke="none" stroke-width="1" rx="1.6"/>
<rect x="101.0" y="613.8" width="3.2" height="2.0" fill="#7fd8cf" stroke="none" stroke-width="1" />
<rect x="66.3" y="631.6" width="33.4" height="11.4" fill="#fbfbfb" stroke="#a8a8a8" stroke-width="0.9" />
<text x="83.0" y="640.0" font-size="7.4" fill="#3a3a3a" text-anchor="middle" font-family='"Liberation Sans","Noto Sans CJK SC",sans-serif' font-weight="bold" >事故池</text>
<rect x="54.5" y="662.6" width="22.5" height="6.1" fill="#3c9a48" stroke="#1c5a28" stroke-width="0.6" rx="2"/>
<rect x="56.2" y="656.1" width="9.5" height="7.4" fill="#4aa858" stroke="#1c5a28" stroke-width="0.6" rx="1.5"/>
<rect x="67.0" y="658.0" width="8.8" height="5.6" fill="#2f8a40" stroke="#1c5a28" stroke-width="0.6" rx="1.5"/>
<rect x="59.5" y="652.4" width="4.2" height="4.6" fill="#2c7a3a" stroke="none" stroke-width="1" />
<rect x="55.2" y="668.8" width="3.5" height="2.2" fill="#222" stroke="none" stroke-width="1" />
<rect x="72.7" y="668.8" width="3.5" height="2.2" fill="#222" stroke="none" stroke-width="1" />
<rect x="58.2" y="658.9" width="5.5" height="2.4" fill="#d8ecd8" stroke="none" stroke-width="1" />
<rect x="51.2" y="672.6" width="29.6" height="12.0" fill="#fbfbfb" stroke="#a8a8a8" stroke-width="0.9" />
<text x="66.0" y="681.3" font-size="7.6" fill="#3a3a3a" text-anchor="middle" font-family='"Liberation Sans","Noto Sans CJK SC",sans-serif' font-weight="bold" >空压机1</text>
<rect x="117.6" y="659.8" width="6.4" height="6.8" fill="#f6eeee" stroke="#b03a4a" stroke-width="1" />
<rect x="116.4" y="661.6" width="2.2" height="3.2" fill="#c23a4a" stroke="none" stroke-width="1" />
<polyline points="121.0,659.8 121.0,666.6" fill="none" stroke="#c86a76" stroke-width="1" />
<rect x="117.5" y="674.6" width="25.0" height="21.0" fill="url(#gHx)" stroke="none" stroke-width="1" />
<rect x="113.0" y="674.6" width="4.5" height="21.0" fill="#0f2a4a" stroke="none" stroke-width="1" />
<rect x="142.5" y="674.6" width="4.0" height="21.0" fill="#0f2a4a" stroke="none" stroke-width="1" />
<polyline points="120.0,685.0 140.0,685.0" fill="none" stroke="#bfe3fb" stroke-width="1.4" stroke-dasharray="1.5 1"/>
<rect x="126.0" y="671.5" width="2.0" height="3.1" fill="#223" stroke="none" stroke-width="1" />
<rect x="139.0" y="671.5" width="2.0" height="3.1" fill="#223" stroke="none" stroke-width="1" />
<path d="M86.5,705.0 L86.5,722.0" fill="none" stroke="#8e8e8e" stroke-width="3"/>
<path d="M86.5,705.0 L86.5,722.0" fill="none" stroke="#dddddd" stroke-width="1.3"/>
<g transform="translate(187.0 0) scale(-1 1)">
<rect x="83.9" y="700.9" width="10.0" height="8.6" fill="#111" stroke="none" stroke-width="1" />
<rect x="87.7" y="702.8" width="4.2" height="4.1" fill="#f4f4f4" stroke="none" stroke-width="1" />
<rect x="93.9" y="701.9" width="9.2" height="6.9" fill="#3e4a46" stroke="#111" stroke-width="0.6" />
<rect x="96.2" y="702.8" width="3.8" height="4.5" fill="#cfe0da" stroke="none" stroke-width="1" />
<circle cx="100.4" cy="699.4" r="1.1" fill="#111" stroke="none" stroke-width="1" />
<circle cx="102.7" cy="702.4" r="1.1" fill="#111" stroke="none" stroke-width="1" />
</g>
<g transform="translate(187.0 0) scale(-1 1)">
<rect x="83.9" y="718.2" width="10.0" height="8.6" fill="#111" stroke="none" stroke-width="1" />
<rect x="87.7" y="720.1" width="4.2" height="4.1" fill="#f4f4f4" stroke="none" stroke-width="1" />
<rect x="93.9" y="719.2" width="9.2" height="6.9" fill="#3e4a46" stroke="#111" stroke-width="0.6" />
<rect x="96.2" y="720.1" width="3.8" height="4.5" fill="#cfe0da" stroke="none" stroke-width="1" />
<circle cx="100.4" cy="716.7" r="1.1" fill="#111" stroke="none" stroke-width="1" />
<circle cx="102.7" cy="719.7" r="1.1" fill="#111" stroke="none" stroke-width="1" />
</g>
<rect x="78.7" y="732.2" width="29.6" height="11.8" fill="#fbfbfb" stroke="#a8a8a8" stroke-width="0.9" />
<text x="93.5" y="740.8" font-size="7.4" fill="#3a3a3a" text-anchor="middle" font-family='"Liberation Sans","Noto Sans CJK SC",sans-serif' font-weight="bold" >溶气泵</text>
<rect x="111.1" y="732.2" width="41.1" height="11.8" fill="#fbfbfb" stroke="#a8a8a8" stroke-width="0.9" />
<text x="131.6" y="740.7" font-size="7.2" fill="#3a3a3a" text-anchor="middle" font-family='"Liberation Sans","Noto Sans CJK SC",sans-serif' font-weight="bold" >气液分离器</text>
<rect x="165.8" y="452.0" width="14.9" height="36.0" fill="#b3aa98" stroke="#8a8070" stroke-width="0.6" />
<rect x="165.8" y="488.0" width="14.9" height="46.5" fill="#c9997c" stroke="#a07a60" stroke-width="0.6" />
<rect x="169.4" y="442.3" width="5.8" height="6.3" fill="#1a1a1a" stroke="none" stroke-width="1" />
<rect x="168.8" y="448.6" width="7.2" height="6.9" fill="#eee" stroke="#555" stroke-width="0.7" />
<rect x="170.8" y="457.0" width="3.4" height="31.0" fill="#d8d4c6" stroke="#5a5448" stroke-width="0.7" />
<rect x="249.5" y="451.6" width="16.6" height="82.9" fill="#2e9e70" stroke="none" stroke-width="1" />
<rect x="249.5" y="505.0" width="16.6" height="29.5" fill="#248460" stroke="none" stroke-width="1" />
<rect x="249.5" y="451.6" width="16.6" height="4.9" fill="#1f7e58" stroke="none" stroke-width="1" />
<polyline points="250.0,451.6 250.0,534.5" fill="none" stroke="#1a5a40" stroke-width="1" opacity="0.7"/>
<path d="M248.0,516.6 L279.0,516.6" fill="none" stroke="#8e8e8e" stroke-width="3.4"/>
<path d="M248.0,516.6 L279.0,516.6" fill="none" stroke="#dddddd" stroke-width="1.7"/>
<path d="M178.6,454.7 Q178.6,450.7 183.6,450.7 L211.4,450.7 Q216.4,450.7 216.4,454.7 L215.9,501.0 L199.8,537.8 L179.1,501.0 Z" fill="url(#gCone)" stroke="#6a7428" stroke-width="0.6" />
<path d="M187.5,472.7 q10,-6 20,0 q-8,7 -20,8 q10,5 19,-1 M189.5,490.7 q9,-5 17,1 q-9,6 -16,7 q8,4 14,0" fill="none" stroke="#7cc47c" stroke-width="0.9" opacity="0.55"/>
<path d="M216.4,454.7 Q216.4,450.7 221.4,450.7 L246.2,450.7 Q251.2,450.7 251.2,454.7 L250.7,501.0 L233.8,537.8 L216.9,501.0 Z" fill="url(#gCone)" stroke="#6a7428" stroke-width="0.6" />
<path d="M223.8,472.7 q10,-6 20,0 q-8,7 -20,8 q10,5 19,-1 M225.8,490.7 q9,-5 17,1 q-9,6 -16,7 q8,4 14,0" fill="none" stroke="#7cc47c" stroke-width="0.9" opacity="0.55"/>
<ellipse cx="201.0" cy="545.6" rx="3.2" ry="7.0" fill="#f4f8f4" stroke="none" stroke-width="1" />
<path d="M199.0,538.1 q-5.5,7 0,15 M203.0,538.1 q5.5,7 0,15" fill="none" stroke="#2e8a6c" stroke-width="2.2" />
<path d="M201.0,552.1 l0,4" fill="none" stroke="#445" stroke-width="1.6" />
<ellipse cx="231.7" cy="545.6" rx="3.2" ry="7.0" fill="#f4f8f4" stroke="none" stroke-width="1" />
<path d="M229.7,538.1 q-5.5,7 0,15 M233.7,538.1 q5.5,7 0,15" fill="none" stroke="#2e8a6c" stroke-width="2.2" />
<path d="M231.7,552.1 l0,4" fill="none" stroke="#445" stroke-width="1.6" />
<rect x="194.0" y="555.2" width="43.1" height="12.4" fill="#fbfbfb" stroke="#a8a8a8" stroke-width="0.9" />
<text x="215.6" y="564.1" font-size="7.6" fill="#3a3a3a" text-anchor="middle" font-family='"Liberation Sans","Noto Sans CJK SC",sans-serif' font-weight="bold" >CSI磁塔池</text>
<rect x="297.3" y="428.3" width="11.6" height="18.7" fill="url(#gMot)" stroke="#5a5a30" stroke-width="0.7" rx="2.5"/>
<polyline points="297.5,434.0 308.7,434.0" fill="none" stroke="#6a6a3a" stroke-width="0.8" />
<polyline points="297.5,440.0 308.7,440.0" fill="none" stroke="#6a6a3a" stroke-width="0.8" />
<path d="M293.5,446.5 L313.5,446.5 Q315.5,446.5 315.5,448.5 L315.5,452.3 L319.3,452.3 Q321.3,452.3 321.3,454.3 L321.3,458 L325.8,458 Q328.8,458 328.8,461 L328.8,545.5 Q328.8,550 324,550 L283,550 Q278.3,550 278.3,545.5 L278.3,461 Q278.3,458 281.3,458 L285.7,458 L285.7,454.3 Q285.7,452.3 287.7,452.3 L291.5,452.3 L291.5,448.5 Q291.5,446.5 293.5,446.5 Z" fill="url(#gRed)" stroke="#5c1010" stroke-width="0.8" />
<rect x="329.6" y="462.2" width="6.6" height="24.0" fill="#c2a07e" stroke="#7a5a40" stroke-width="0.6" rx="1.5"/>
<rect x="301.5" y="463.4" width="23.1" height="3.8" fill="#7c3e92" stroke="#4a1a58" stroke-width="0.5" rx="1"/>
<polyline points="278.6,509.6 328.5,509.6" fill="none" stroke="#5c1212" stroke-width="0.9" opacity="0.8"/>
<rect x="299.0" y="478.8" width="9.9" height="30.6" fill="#d68a8c" stroke="#4e0e0e" stroke-width="0.9" />
<polygon points="288.2,516.5 314.0,516.5 309.0,532.8 299.0,532.8" fill="#cc7074" stroke="#4e0e0e" stroke-width="0.9" />
<ellipse cx="303.0" cy="521.5" rx="7.0" ry="2.6" fill="#e4a8a8" stroke="#5a1414" stroke-width="0.6" />
<rect x="299.0" y="532.8" width="9.9" height="16.8" fill="#d68a8c" stroke="#4e0e0e" stroke-width="0.9" />
<path d="M272.8,517.0 L303.0,517.0" fill="none" stroke="#8e8e8e" stroke-width="3"/>
<path d="M272.8,517.0 L303.0,517.0" fill="none" stroke="#dddddd" stroke-width="1.3"/>
<path d="M272.8,471.8 L299.6,471.8" fill="none" stroke="#9a8a8e" stroke-width="3.2"/>
<path d="M272.8,471.8 L299.6,471.8" fill="none" stroke="#ecdce0" stroke-width="1.5"/>
<rect x="281.0" y="555.6" width="43.9" height="12.4" fill="#fbfbfb" stroke="#a8a8a8" stroke-width="0.9" />
<text x="302.9" y="564.5" font-size="7.6" fill="#3a3a3a" text-anchor="middle" font-family='"Liberation Sans","Noto Sans CJK SC",sans-serif' font-weight="bold" >ADP分离器</text>
<path d="M364.3,459.9 L386,459.9 Q388,459.9 388,461.9 L388,464.8 L391,464.8 Q393,464.8 393,466.8 L393,471.5 L395.7,471.5 Q398.7,471.5 398.7,474.5 L398.7,545.5 Q398.7,550.3 394,550.3 L354.6,550.3 Q349.9,550.3 349.9,545.5 L349.9,474.5 Q349.9,471.5 352.9,471.5 L357.4,471.5 L357.4,466.8 Q357.4,464.8 359.4,464.8 L362.3,464.8 L362.3,461.9 Q362.3,459.9 364.3,459.9 Z" fill="url(#gBlu)" stroke="#22368c" stroke-width="0.8" />
<path d="M362,483 L387,494.6 M387,483 L362,494.6 M358,494.6 L391,494.6 M358,483 L391,483 M358,476 L391,476" fill="none" stroke="#c9d6f8" stroke-width="0.8" opacity="0.75"/>
<circle cx="364.0" cy="520.0" r="1.0" fill="#cc5a82" stroke="none" stroke-width="1" />
<circle cx="367.0" cy="515.5" r="1.0" fill="#cc5a82" stroke="none" stroke-width="1" />
<circle cx="370.0" cy="518.5" r="1.0" fill="#cc5a82" stroke="none" stroke-width="1" />
<circle cx="373.5" cy="511.0" r="1.0" fill="#cc5a82" stroke="none" stroke-width="1" />
<circle cx="377.0" cy="516.0" r="1.0" fill="#cc5a82" stroke="none" stroke-width="1" />
<circle cx="381.0" cy="512.5" r="1.0" fill="#cc5a82" stroke="none" stroke-width="1" />
<circle cx="385.0" cy="518.0" r="1.0" fill="#cc5a82" stroke="none" stroke-width="1" />
<circle cx="368.5" cy="522.0" r="1.0" fill="#cc5a82" stroke="none" stroke-width="1" />
<circle cx="376.0" cy="522.0" r="1.0" fill="#cc5a82" stroke="none" stroke-width="1" />
<circle cx="383.5" cy="522.5" r="1.0" fill="#cc5a82" stroke="none" stroke-width="1" />
<circle cx="372.0" cy="507.5" r="1.0" fill="#cc5a82" stroke="none" stroke-width="1" />
<circle cx="379.5" cy="508.5" r="1.0" fill="#cc5a82" stroke="none" stroke-width="1" />
<circle cx="388.0" cy="521.0" r="1.0" fill="#cc5a82" stroke="none" stroke-width="1" />
<circle cx="366.0" cy="511.0" r="1.0" fill="#cc5a82" stroke="none" stroke-width="1" />
<circle cx="386.5" cy="513.5" r="1.0" fill="#cc5a82" stroke="none" stroke-width="1" />
<path d="M356.5,552 L356.5,525.3 L391.3,525.3" fill="none" stroke="#f4dfe8" stroke-width="1.8" />
<rect x="350.7" y="555.2" width="46.7" height="12.4" fill="#fbfbfb" stroke="#a8a8a8" stroke-width="0.9" />
<text x="374.0" y="564.0" font-size="7.3" fill="#3a3a3a" text-anchor="middle" font-family='"Liberation Sans","Noto Sans CJK SC",sans-serif' font-weight="bold" >SOCD反应器</text>
<path d="M356.3,567.6 L356.3,574.0" fill="none" stroke="#b898aa" stroke-width="3.2"/>
<path d="M356.3,567.6 L356.3,574.0" fill="none" stroke="#ecd4e2" stroke-width="1.5"/>
<polygon points="607.7,499.3 621.7,485.9 621.7,533.5 607.7,546.9" fill="#161c18" stroke="none" stroke-width="1" />
<polygon points="527.5,499.3 541.5,480.1 621.7,480.1 607.7,499.3" fill="#d4d47a" stroke="#4a4a38" stroke-width="0.8" />
<polygon points="528.1,499.3 531.7,494.3 610.7,494.3 607.1,499.3" fill="#e2e2dc" stroke="none" stroke-width="1" />
<polygon points="546.0,494.3 550.5,488.2 575.7,488.2 571.2,494.3" fill="#5252ba" stroke="none" stroke-width="1" />
<polygon points="576.9,494.3 581.3,488.2 613.4,488.2 608.9,494.3" fill="#5252ba" stroke="none" stroke-width="1" />
<rect x="527.5" y="499.3" width="80.2" height="47.6" fill="#0c1412" stroke="none" stroke-width="1" />
<rect x="529.3" y="501.8" width="76.6" height="3.0" fill="#bccaca" stroke="none" stroke-width="1" />
<rect x="529.3" y="504.8" width="76.6" height="39.3" fill="#24e2e0" stroke="none" stroke-width="1" />
<rect x="529.3" y="501.8" width="76.6" height="14.0" fill="url(#gWg)" stroke="none" stroke-width="1" />
<rect x="529.3" y="504.8" width="1.4" height="39.3" fill="#178a8a" stroke="none" stroke-width="1" opacity="0.6"/>
<polygon points="511.9,500.6 526.1,481.4 526.1,529.6 511.9,548.8" fill="#161c18" stroke="none" stroke-width="1" />
<polygon points="471.0,500.6 485.2,481.4 526.1,481.4 511.9,500.6" fill="#d4d47a" stroke="#4a4a38" stroke-width="0.8" />
<polygon points="471.6,500.6 474.7,496.4 514.4,496.4 511.3,500.6" fill="#e2e2dc" stroke="none" stroke-width="1" />
<polygon points="486.4,496.4 491.5,489.5 518.9,489.5 513.8,496.4" fill="#5252ba" stroke="none" stroke-width="1" />
<rect x="471.0" y="500.6" width="40.9" height="48.2" fill="#0c1412" stroke="none" stroke-width="1" />
<rect x="472.8" y="503.1" width="37.3" height="3.5" fill="#bccaca" stroke="none" stroke-width="1" />
<rect x="472.8" y="506.6" width="37.3" height="39.4" fill="#24e2e0" stroke="none" stroke-width="1" />
<rect x="472.8" y="506.6" width="1.4" height="39.4" fill="#178a8a" stroke="none" stroke-width="1" opacity="0.6"/>
<polygon points="458.3,500.3 472.5,482.4 472.5,531.1 458.3,549.0" fill="#161c18" stroke="none" stroke-width="1" />
<polygon points="415.9,500.3 430.1,482.4 472.5,482.4 458.3,500.3" fill="#d4d47a" stroke="#4a4a38" stroke-width="0.8" />
<polygon points="416.5,500.3 419.6,496.4 460.8,496.4 457.7,500.3" fill="#e2e2dc" stroke="none" stroke-width="1" />
<polygon points="432.2,496.4 437.3,489.9 463.6,489.9 458.5,496.4" fill="#5252ba" stroke="none" stroke-width="1" />
<rect x="415.9" y="500.3" width="42.4" height="48.7" fill="#0c1412" stroke="none" stroke-width="1" />
<rect x="417.7" y="502.8" width="38.8" height="6.5" fill="#bccaca" stroke="none" stroke-width="1" />
<rect x="417.7" y="509.3" width="38.8" height="36.9" fill="#24e2e0" stroke="none" stroke-width="1" />
<rect x="417.7" y="509.3" width="1.4" height="36.9" fill="#178a8a" stroke="none" stroke-width="1" opacity="0.6"/>
<rect x="438.3" y="530.5" width="5.4" height="13.0" fill="#10241e" stroke="none" stroke-width="1" rx="1.6"/>
<rect x="439.5" y="532.7" width="3.0" height="2.0" fill="#7fd8cf" stroke="none" stroke-width="1" />
<rect x="449.3" y="530.5" width="5.4" height="13.0" fill="#10241e" stroke="none" stroke-width="1" rx="1.6"/>
<rect x="450.5" y="532.7" width="3.0" height="2.0" fill="#7fd8cf" stroke="none" stroke-width="1" />
<path d="M441.0,531.0 L441.0,518.4 Q441.0,515.8 443.6,515.8 L473.0,515.8" fill="none" stroke="#7a8a88" stroke-width="2.4"/>
<path d="M441.0,531.0 L441.0,518.4 Q441.0,515.8 443.6,515.8 L473.0,515.8" fill="none" stroke="#eef4f4" stroke-width="0.7"/>
<path d="M452.0,531.0 L452.0,515.8" fill="none" stroke="#7a8a88" stroke-width="2.4"/>
<path d="M452.0,531.0 L452.0,515.8" fill="none" stroke="#eef4f4" stroke-width="0.7"/>
<path d="M488,534 q3,-3 6,0 q-3,3 -6,0 M494,536 l5,0" fill="none" stroke="#2a50c0" stroke-width="1.6" />
<path d="M428.7,470.0 L428.7,492.0" fill="none" stroke="#8e8e8e" stroke-width="3.9"/>
<path d="M428.7,470.0 L428.7,492.0" fill="none" stroke="#dddddd" stroke-width="2.2"/>
<path d="M506.5,492.0 L506.5,463.4 Q506.5,460.8 509.1,460.8 L520.0,460.8" fill="none" stroke="#8e8e8e" stroke-width="3.9"/>
<path d="M506.5,492.0 L506.5,463.4 Q506.5,460.8 509.1,460.8 L520.0,460.8" fill="none" stroke="#dddddd" stroke-width="2.2"/>
<path d="M513.5,492.0 L513.5,470.8 Q513.5,468.2 516.1,468.2 L593.9,468.2 Q596.5,468.2 596.5,470.8 L596.5,532.0" fill="none" stroke="#8e8e8e" stroke-width="3.6"/>
<path d="M513.5,492.0 L513.5,470.8 Q513.5,468.2 516.1,468.2 L593.9,468.2 Q596.5,468.2 596.5,470.8 L596.5,532.0" fill="none" stroke="#dddddd" stroke-width="1.9"/>
<path d="M587.7,468.2 L587.7,532.0" fill="none" stroke="#8e8e8e" stroke-width="3.6"/>
<path d="M587.7,468.2 L587.7,532.0" fill="none" stroke="#dddddd" stroke-width="1.9"/>
<rect x="585.2" y="530.0" width="5.0" height="12.0" fill="#10241e" stroke="none" stroke-width="1" rx="1.6"/>
<rect x="586.4" y="532.2" width="2.6" height="2.0" fill="#7fd8cf" stroke="none" stroke-width="1" />
<rect x="594.0" y="530.0" width="5.0" height="12.0" fill="#10241e" stroke="none" stroke-width="1" rx="1.6"/>
<rect x="595.2" y="532.2" width="2.6" height="2.0" fill="#7fd8cf" stroke="none" stroke-width="1" />
<path d="M506.9,504.3 L533.4,504.3" fill="none" stroke="#8e8e8e" stroke-width="3.2"/>
<path d="M506.9,504.3 L533.4,504.3" fill="none" stroke="#dddddd" stroke-width="1.5"/>
<path d="M602.7,504.3 L640.0,504.3" fill="none" stroke="#8e8e8e" stroke-width="3.2"/>
<path d="M602.7,504.3 L640.0,504.3" fill="none" stroke="#dddddd" stroke-width="1.5"/>
<polyline points="531.0,541.5 604.0,541.5" fill="none" stroke="#c8f4f2" stroke-width="1.2" />
<rect x="415.9" y="554.4" width="42.6" height="13.4" fill="#fbfbfb" stroke="#a8a8a8" stroke-width="0.9" />
<text x="437.2" y="563.7" font-size="7.3" fill="#3a3a3a" text-anchor="middle" font-family='"Liberation Sans","Noto Sans CJK SC",sans-serif' font-weight="bold" >水解调节池</text>
<rect x="476.8" y="554.4" width="29.3" height="13.4" fill="#fbfbfb" stroke="#a8a8a8" stroke-width="0.9" />
<text x="491.5" y="563.8" font-size="7.4" fill="#3a3a3a" text-anchor="middle" font-family='"Liberation Sans","Noto Sans CJK SC",sans-serif' font-weight="bold" >缺氧池</text>
<rect x="538.4" y="555.3" width="29.2" height="12.5" fill="#fbfbfb" stroke="#a8a8a8" stroke-width="0.9" />
<text x="553.0" y="564.2" font-size="7.4" fill="#3a3a3a" text-anchor="middle" font-family='"Liberation Sans","Noto Sans CJK SC",sans-serif' font-weight="bold" >好氧池</text>
<rect x="571.8" y="555.3" width="41.8" height="12.5" fill="#fbfbfb" stroke="#a8a8a8" stroke-width="0.9" />
<text x="592.7" y="564.2" font-size="7.3" fill="#3a3a3a" text-anchor="middle" font-family='"Liberation Sans","Noto Sans CJK SC",sans-serif' font-weight="bold" >混合回流泵</text>
<path d="M472.2,351.3 Q472.2,344.3 480.2,344.3 L509.1,344.3 Q517.1,344.3 517.1,351.3 L517.1,394.9 L494.6,434.1 L472.2,394.9 Z" fill="url(#gPur)" stroke="#5a145e" stroke-width="0.7" />
<path d="M472.2,394.9 Q494.6,397.9 517.1,394.9" fill="none" stroke="#e8c0ea" stroke-width="0.8" opacity="0.6"/>
<path d="M665.3,351.3 Q665.3,344.3 673.3,344.3 L702.1,344.3 Q710.1,344.3 710.1,351.3 L710.1,396.8 L686.3,434.0 L665.3,396.8 Z" fill="url(#gPur)" stroke="#5a145e" stroke-width="0.7" />
<path d="M665.3,396.8 Q687.7,399.8 710.1,396.8" fill="none" stroke="#e8c0ea" stroke-width="0.8" opacity="0.6"/>
<path d="M520.0,353.7 L497.2,353.7 Q494.6,353.7 494.6,356.3 L494.6,413.0" fill="none" stroke="#6a4a6e" stroke-width="3.4"/>
<path d="M520.0,353.7 L497.2,353.7 Q494.6,353.7 494.6,356.3 L494.6,413.0" fill="none" stroke="#f0e0f2" stroke-width="1.7"/>
<path d="M472.0,375.8 L491.0,375.8" fill="none" stroke="#8a6a8e" stroke-width="3.4"/>
<path d="M472.0,375.8 L491.0,375.8" fill="none" stroke="#f4e6f6" stroke-width="1.7"/>
<path d="M660.0,353.7 L683.7,353.7 Q686.3,353.7 686.3,356.3 L686.3,413.0" fill="none" stroke="#6a4a6e" stroke-width="3.4"/>
<path d="M660.0,353.7 L683.7,353.7 Q686.3,353.7 686.3,356.3 L686.3,413.0" fill="none" stroke="#f0e0f2" stroke-width="1.7"/>
<path d="M691.0,375.3 L712.0,375.3" fill="none" stroke="#8a6a8e" stroke-width="3.4"/>
<path d="M691.0,375.3 L712.0,375.3" fill="none" stroke="#f4e6f6" stroke-width="1.7"/>
<rect x="492.3" y="412.0" width="4.6" height="14.0" fill="#10241e" stroke="none" stroke-width="1" rx="1.6"/>
<rect x="493.5" y="414.2" width="2.2" height="2.0" fill="#7fd8cf" stroke="none" stroke-width="1" />
<rect x="684.0" y="412.0" width="4.6" height="14.0" fill="#10241e" stroke="none" stroke-width="1" rx="1.6"/>
<rect x="685.2" y="414.2" width="2.2" height="2.0" fill="#7fd8cf" stroke="none" stroke-width="1" />
<rect x="472.6" y="441.7" width="41.1" height="11.5" fill="#fbfbfb" stroke="#a8a8a8" stroke-width="0.9" />
<text x="493.2" y="450.0" font-size="7.2" fill="#3a3a3a" text-anchor="middle" font-family='"Liberation Sans","Noto Sans CJK SC",sans-serif' font-weight="bold" >污泥浓缩池</text>
<rect x="668.1" y="441.3" width="39.2" height="11.9" fill="#fbfbfb" stroke="#a8a8a8" stroke-width="0.9" />
<text x="687.7" y="449.8" font-size="7.2" fill="#3a3a3a" text-anchor="middle" font-family='"Liberation Sans","Noto Sans CJK SC",sans-serif' font-weight="bold" >污泥浓缩池</text>
<rect x="556.6" y="389.5" width="62.0" height="41.5" fill="#f1f1f1" stroke="#9a9a9a" stroke-width="0.7" rx="2"/>
<rect x="567.2" y="398.6" width="44.8" height="29.4" fill="#5c5c5c" stroke="none" stroke-width="1" />
<rect x="564.3" y="380.7" width="53.0" height="4.7" fill="#4c4c4c" stroke="none" stroke-width="1" />
<polyline points="564.6,380.6 617.0,380.6" fill="none" stroke="#2c2c2c" stroke-width="1.6" stroke-dasharray="2.2 1.6"/>
<rect x="558.6" y="385.2" width="54.9" height="4.8" fill="#b4b4b4" stroke="#8a8a8a" stroke-width="0.5" />
<polygon points="566.0,394.0 612.0,391.0 612.0,396.5 566.0,400.5" fill="#8c8c8c" stroke="none" stroke-width="1" />
<rect x="567.2" y="410.8" width="44.8" height="3.6" fill="#f2f2f2" stroke="none" stroke-width="1" />
<rect x="583.0" y="399.0" width="3.4" height="29.0" fill="#ececec" stroke="none" stroke-width="1" />
<rect x="589.0" y="399.0" width="3.0" height="29.0" fill="#f4f4f4" stroke="none" stroke-width="1" />
<rect x="606.0" y="399.0" width="3.0" height="29.0" fill="#e8e8e8" stroke="none" stroke-width="1" />
<rect x="596.5" y="402.0" width="8.0" height="8.6" fill="#1c1c1c" stroke="none" stroke-width="1" rx="3"/>
<rect x="570.0" y="416.5" width="12.0" height="7.5" fill="#2c2c2c" stroke="none" stroke-width="1" />
<rect x="593.5" y="416.0" width="11.5" height="12.0" fill="#8a8a8a" stroke="none" stroke-width="1" />
<rect x="556.6" y="399.0" width="10.6" height="32.0" fill="#f3f3f3" stroke="#9a9a9a" stroke-width="0.6" />
<rect x="611.6" y="392.0" width="7.1" height="34.0" fill="#f6f6f6" stroke="#a4a4a4" stroke-width="0.5" />
<rect x="618.7" y="394.3" width="15.3" height="15.2" fill="#f0f0f0" stroke="#a8a8a8" stroke-width="0.5" />
<rect x="620.0" y="398.0" width="6.5" height="8.0" fill="#3a3a3a" stroke="none" stroke-width="1" />
<polygon points="629.0,402.0 633.0,398.0 639.0,401.0 638.0,407.0 630.0,407.0" fill="#141414" stroke="none" stroke-width="1" />
<circle cx="634.0" cy="393.0" r="1.6" fill="#8a8a8a" stroke="none" stroke-width="1" />
<polyline points="591.0,428.3 636.0,428.3" fill="none" stroke="#d89aa6" stroke-width="1.6" />
<rect x="636.2" y="426.3" width="21.5" height="5.6" fill="#3c9a48" stroke="#1c5a28" stroke-width="0.6" rx="2"/>
<rect x="637.9" y="420.3" width="9.1" height="6.8" fill="#4aa858" stroke="#1c5a28" stroke-width="0.6" rx="1.5"/>
<rect x="648.1" y="422.0" width="8.4" height="5.1" fill="#2f8a40" stroke="#1c5a28" stroke-width="0.6" rx="1.5"/>
<rect x="641.0" y="416.9" width="4.1" height="4.3" fill="#2c7a3a" stroke="none" stroke-width="1" />
<rect x="636.9" y="431.9" width="3.3" height="2.1" fill="#222" stroke="none" stroke-width="1" />
<rect x="653.6" y="431.9" width="3.3" height="2.1" fill="#222" stroke="none" stroke-width="1" />
<rect x="639.8" y="422.9" width="5.3" height="2.2" fill="#d8ecd8" stroke="none" stroke-width="1" />
<rect x="570.1" y="441.7" width="41.0" height="11.5" fill="#fbfbfb" stroke="#a8a8a8" stroke-width="0.9" />
<text x="590.6" y="450.0" font-size="7.2" fill="#3a3a3a" text-anchor="middle" font-family='"Liberation Sans","Noto Sans CJK SC",sans-serif' font-weight="bold" >带式压滤机</text>
<rect x="630.7" y="441.7" width="30.5" height="11.5" fill="#fbfbfb" stroke="#a8a8a8" stroke-width="0.9" />
<text x="646.0" y="450.0" font-size="7.2" fill="#3a3a3a" text-anchor="middle" font-family='"Liberation Sans","Noto Sans CJK SC",sans-serif' font-weight="bold" >空压机2</text>
<path d="M639.3,492 L644.6,492 L644.6,497 L716.6,497 L716.6,492 L722.6,492 L722.6,541 L680.6,548 L639.3,541 Z" fill="#eeeeea" stroke="#a4a49c" stroke-width="0.8" />
<path d="M641.4,497 L721.6,497 L721.6,539.2 L680.6,545.6 L641.4,539.2 Z" fill="url(#gOl)" stroke="none" stroke-width="1" />
<rect x="674.6" y="479.5" width="11.3" height="16.2" fill="url(#gMo2)" stroke="#4e5a42" stroke-width="0.7" rx="2.5"/>
<rect x="678.9" y="495.7" width="3.0" height="49.7" fill="#dcdca6" stroke="#7a7a3a" stroke-width="0.5" />
<rect x="692.5" y="541.5" width="4.0" height="6.5" fill="#1c1c14" stroke="none" stroke-width="1" />
<path d="M722.0,502.3 L724.8,502.3 Q727.4,502.3 727.4,504.9 L727.4,546.0" fill="none" stroke="#8e8e8e" stroke-width="3.2"/>
<path d="M722.0,502.3 L724.8,502.3 Q727.4,502.3 727.4,504.9 L727.4,546.0" fill="none" stroke="#dddddd" stroke-width="1.5"/>
<path d="M730.5,552.0 L730.5,568.0" fill="none" stroke="#8e8e8e" stroke-width="3"/>
<path d="M730.5,552.0 L730.5,568.0" fill="none" stroke="#dddddd" stroke-width="1.3"/>
<path d="M708.0,546.0 L708.0,556.6 Q708.0,559.2 710.6,559.2 L719.0,559.2" fill="none" stroke="#8e8e8e" stroke-width="3.2"/>
<path d="M708.0,546.0 L708.0,556.6 Q708.0,559.2 710.6,559.2 L719.0,559.2" fill="none" stroke="#dddddd" stroke-width="1.5"/>
<rect x="717.5" y="547.4" width="9.9" height="8.6" fill="#111" stroke="none" stroke-width="1" />
<rect x="721.3" y="549.3" width="4.2" height="4.1" fill="#f4f4f4" stroke="none" stroke-width="1" />
<rect x="727.4" y="548.4" width="9.1" height="6.9" fill="#3e4a46" stroke="#111" stroke-width="0.6" />
<rect x="729.7" y="549.3" width="3.8" height="4.5" fill="#cfe0da" stroke="none" stroke-width="1" />
<circle cx="733.8" cy="545.9" r="1.1" fill="#111" stroke="none" stroke-width="1" />
<circle cx="736.1" cy="548.9" r="1.1" fill="#111" stroke="none" stroke-width="1" />
<rect x="717.5" y="564.6" width="9.9" height="8.6" fill="#111" stroke="none" stroke-width="1" />
<rect x="721.3" y="566.5" width="4.2" height="4.1" fill="#f4f4f4" stroke="none" stroke-width="1" />
<rect x="727.4" y="565.6" width="9.1" height="6.9" fill="#3e4a46" stroke="#111" stroke-width="0.6" />
<rect x="729.7" y="566.5" width="3.8" height="4.5" fill="#cfe0da" stroke="none" stroke-width="1" />
<circle cx="733.8" cy="563.1" r="1.1" fill="#111" stroke="none" stroke-width="1" />
<circle cx="736.1" cy="566.1" r="1.1" fill="#111" stroke="none" stroke-width="1" />
<rect x="665.1" y="553.8" width="30.1" height="11.9" fill="#fbfbfb" stroke="#a8a8a8" stroke-width="0.9" />
<text x="680.2" y="562.4" font-size="7.4" fill="#3a3a3a" text-anchor="middle" font-family='"Liberation Sans","Noto Sans CJK SC",sans-serif' font-weight="bold" >二沉池</text>
<rect x="707.0" y="578.5" width="41.9" height="11.9" fill="#fbfbfb" stroke="#a8a8a8" stroke-width="0.9" />
<text x="728.0" y="587.0" font-size="7.2" fill="#3a3a3a" text-anchor="middle" font-family='"Liberation Sans","Noto Sans CJK SC",sans-serif' font-weight="bold" >污泥回流泵</text>
<path d="M726.6,590.4 L726.6,618.0" fill="none" stroke="#8e8e8e" stroke-width="3.2"/>
<path d="M726.6,590.4 L726.6,618.0" fill="none" stroke="#dddddd" stroke-width="1.5"/>
<polygon points="735.7,628.5 744.4,615.5 744.4,660.2 735.7,673.2" fill="#161c18" stroke="none" stroke-width="1" />
<polygon points="694.7,628.5 703.4,612.3 744.4,612.3 735.7,628.5" fill="#e9e9de" stroke="#4a4a38" stroke-width="0.8" />
<polygon points="700.6,617.5 703.4,612.3 744.4,612.3 741.6,617.5" fill="#e6e690" stroke="#7a7a40" stroke-width="0.6" />
<polygon points="699.9,624.9 703.0,619.1 735.8,619.1 732.7,624.9" fill="#5252ba" stroke="none" stroke-width="1" />
<rect x="694.7" y="628.5" width="41.0" height="44.7" fill="#0c1412" stroke="none" stroke-width="1" />
<rect x="696.5" y="631.0" width="37.4" height="8.0" fill="#bccaca" stroke="none" stroke-width="1" />
<rect x="696.5" y="639.0" width="37.4" height="31.4" fill="#24e2e0" stroke="none" stroke-width="1" />
<rect x="696.5" y="639.0" width="1.4" height="31.4" fill="#178a8a" stroke="none" stroke-width="1" opacity="0.6"/>
<circle cx="701.5" cy="645.0" r="2.3" fill="#10a050" stroke="none" stroke-width="1" />
<circle cx="701.5" cy="663.4" r="2.3" fill="#10a050" stroke="none" stroke-width="1" />
<path d="M726.0,655.0 L726.0,644.6 Q726.0,642.0 728.6,642.0 L738.0,642.0" fill="none" stroke="#222" stroke-width="2.6"/>
<path d="M726.0,655.0 L726.0,644.6 Q726.0,642.0 728.6,642.0 L738.0,642.0" fill="none" stroke="#e8f0f0" stroke-width="0.9"/>
<rect x="723.7" y="654.6" width="4.6" height="12.4" fill="#10241e" stroke="none" stroke-width="1" rx="1.6"/>
<rect x="724.9" y="656.8" width="2.2" height="2.0" fill="#7fd8cf" stroke="none" stroke-width="1" />
<rect x="698.4" y="679.4" width="34.8" height="11.2" fill="#fbfbfb" stroke="#a8a8a8" stroke-width="0.9" />
<text x="715.8" y="687.6" font-size="7.2" fill="#3a3a3a" text-anchor="middle" font-family='"Liberation Sans","Noto Sans CJK SC",sans-serif' font-weight="bold" >集碳滤池</text>
<polygon points="304.1,587.7 309.8,580.7 309.8,606.5 304.1,613.5" fill="#161c18" stroke="none" stroke-width="1" />
<polygon points="277.4,587.7 283.1,577.2 309.8,577.2 304.1,587.7" fill="#e9e9de" stroke="#4a4a38" stroke-width="0.8" />
<polygon points="281.3,580.6 283.1,577.2 309.8,577.2 308.0,580.6" fill="#e6e690" stroke="#7a7a40" stroke-width="0.6" />
<polygon points="281.3,585.4 283.4,581.6 304.7,581.6 302.7,585.4" fill="#5252ba" stroke="none" stroke-width="1" />
<rect x="277.4" y="587.7" width="26.7" height="25.8" fill="#0c1412" stroke="none" stroke-width="1" />
<rect x="279.2" y="590.2" width="23.1" height="10.0" fill="#c4c4c0" stroke="none" stroke-width="1" />
<rect x="279.2" y="600.2" width="23.1" height="10.5" fill="#858c1c" stroke="none" stroke-width="1" />
<rect x="279.2" y="600.2" width="1.4" height="10.5" fill="#178a8a" stroke="none" stroke-width="1" opacity="0.6"/>
<path d="M272.8,580.0 L272.8,589.9 Q272.8,592.5 275.4,592.5 L281.0,592.5" fill="none" stroke="#8e8e8e" stroke-width="3.9"/>
<path d="M272.8,580.0 L272.8,589.9 Q272.8,592.5 275.4,592.5 L281.0,592.5" fill="none" stroke="#dddddd" stroke-width="2.2"/>
<rect x="270.7" y="615.4" width="41.0" height="12.4" fill="#fbfbfb" stroke="#a8a8a8" stroke-width="0.9" />
<text x="291.2" y="624.2" font-size="7.2" fill="#3a3a3a" text-anchor="middle" font-family='"Liberation Sans","Noto Sans CJK SC",sans-serif' font-weight="bold" >污泥干化池</text>
<polygon points="414.0,585.8 419.7,578.8 419.7,606.5 414.0,613.5" fill="#161c18" stroke="none" stroke-width="1" />
<polygon points="386.3,585.8 392.0,576.2 419.7,576.2 414.0,585.8" fill="#e9e9de" stroke="#4a4a38" stroke-width="0.8" />
<polygon points="390.2,579.3 392.0,576.2 419.7,576.2 417.9,579.3" fill="#e6e690" stroke="#7a7a40" stroke-width="0.6" />
<polygon points="390.3,583.7 392.4,580.2 414.5,580.2 412.5,583.7" fill="#5252ba" stroke="none" stroke-width="1" />
<rect x="386.3" y="585.8" width="27.7" height="27.7" fill="#0c1412" stroke="none" stroke-width="1" />
<rect x="388.1" y="588.3" width="24.1" height="3.0" fill="#9ab89a" stroke="none" stroke-width="1" />
<rect x="388.1" y="591.3" width="24.1" height="19.4" fill="#4c7a34" stroke="none" stroke-width="1" />
<rect x="388.1" y="591.3" width="1.4" height="19.4" fill="#178a8a" stroke="none" stroke-width="1" opacity="0.6"/>
<path d="M397.0,600.0 L397.0,592.6 Q397.0,590.0 399.6,590.0 L402.9,590.0 Q405.5,590.0 405.5,592.6 L405.5,600.0" fill="none" stroke="#222" stroke-width="2.2"/>
<path d="M397.0,600.0 L397.0,592.6 Q397.0,590.0 399.6,590.0 L402.9,590.0 Q405.5,590.0 405.5,592.6 L405.5,600.0" fill="none" stroke="#eee" stroke-width="0.5"/>
<rect x="394.5" y="598.0" width="5.0" height="13.0" fill="#10241e" stroke="none" stroke-width="1" rx="1.6"/>
<rect x="395.7" y="600.2" width="2.6" height="2.0" fill="#7fd8cf" stroke="none" stroke-width="1" />
<rect x="403.0" y="598.0" width="5.0" height="13.0" fill="#10241e" stroke="none" stroke-width="1" rx="1.6"/>
<rect x="404.2" y="600.2" width="2.6" height="2.0" fill="#7fd8cf" stroke="none" stroke-width="1" />
<path d="M403.9,575.0 L403.9,589.0" fill="none" stroke="#8e8e8e" stroke-width="3.4"/>
<path d="M403.9,575.0 L403.9,589.0" fill="none" stroke="#dddddd" stroke-width="1.7"/>
<rect x="379.3" y="616.0" width="42.0" height="11.8" fill="#fbfbfb" stroke="#a8a8a8" stroke-width="0.9" />
<text x="400.3" y="624.5" font-size="7.2" fill="#3a3a3a" text-anchor="middle" font-family='"Liberation Sans","Noto Sans CJK SC",sans-serif' font-weight="bold" >污泥过滤池</text>
<rect x="358.6" y="641.0" width="19.1" height="10.6" fill="#d8d8d8" stroke="#555" stroke-width="0.7" />
<rect x="359.5" y="643.5" width="17.3" height="4.0" fill="#181818" stroke="none" stroke-width="1" />
<rect x="366.0" y="634.5" width="10.0" height="6.5" fill="#2a2a2a" stroke="none" stroke-width="1" />
<rect x="360.0" y="636.5" width="6.0" height="4.5" fill="#bbb" stroke="#555" stroke-width="0.5" />
<rect x="355.8" y="653.6" width="24.8" height="12.4" fill="#fbfbfb" stroke="#a8a8a8" stroke-width="0.9" />
<text x="368.2" y="662.5" font-size="7.4" fill="#3a3a3a" text-anchor="middle" font-family='"Liberation Sans","Noto Sans CJK SC",sans-serif' font-weight="bold" >冷干机</text>
<rect x="371.0" y="670.0" width="63.0" height="55.4" fill="#a2a2ea" stroke="none" stroke-width="1" />
<rect x="371.0" y="670.0" width="63.0" height="4.8" fill="#6464c8" stroke="none" stroke-width="1" />
<rect x="371.0" y="721.5" width="63.0" height="3.9" fill="#4a4ab4" stroke="none" stroke-width="1" />
<polyline points="385.3,675.0 385.3,721.0" fill="none" stroke="#7c7cd4" stroke-width="0.8" />
<polyline points="401.6,675.0 401.6,721.0" fill="none" stroke="#7c7cd4" stroke-width="0.8" />
<polyline points="416.9,675.0 416.9,721.0" fill="none" stroke="#7c7cd4" stroke-width="0.8" />
<rect x="396.2" y="682.0" width="1.8" height="18.0" fill="#e6e6fa" stroke="none" stroke-width="1" />
<rect x="402.8" y="682.0" width="1.2" height="18.0" fill="#d4d4f4" stroke="none" stroke-width="1" />
<rect x="418.5" y="681.0" width="12.5" height="8.0" fill="#dcdcf8" stroke="none" stroke-width="1" />
<rect x="418.5" y="691.0" width="12.5" height="7.0" fill="#c8c8f4" stroke="none" stroke-width="1" />
<rect x="420.0" y="700.0" width="9.0" height="3.0" fill="#8484d8" stroke="none" stroke-width="1" />
<rect x="374.0" y="680.0" width="7.0" height="3.0" fill="#d8d8f6" stroke="none" stroke-width="1" />
<rect x="372.6" y="731.7" width="55.0" height="12.6" fill="#fbfbfb" stroke="#a8a8a8" stroke-width="0.9" />
<text x="400.1" y="740.5" font-size="7" fill="#3a3a3a" text-anchor="middle" font-family='"Liberation Sans","Noto Sans CJK SC",sans-serif' font-weight="bold" >氧化剂发生装置</text>
<polygon points="301.2,683.4 307.5,669.1 307.5,713.0 301.2,727.3" fill="#161c18" stroke="none" stroke-width="1" />
<polygon points="257.3,683.4 263.6,667.2 307.5,667.2 301.2,683.4" fill="#e9e9de" stroke="#4a4a38" stroke-width="0.8" />
<polygon points="261.6,672.4 263.6,667.2 307.5,667.2 305.5,672.4" fill="#e6e690" stroke="#7a7a40" stroke-width="0.6" />
<polygon points="263.1,679.8 265.3,674.0 300.5,674.0 298.2,679.8" fill="#5252ba" stroke="none" stroke-width="1" />
<rect x="257.3" y="683.4" width="43.9" height="43.9" fill="#0c1412" stroke="none" stroke-width="1" />
<rect x="259.1" y="685.9" width="40.3" height="7.5" fill="#bccaca" stroke="none" stroke-width="1" />
<rect x="259.1" y="693.4" width="40.3" height="31.1" fill="#24e2e0" stroke="none" stroke-width="1" />
<rect x="259.1" y="693.4" width="1.4" height="31.1" fill="#178a8a" stroke="none" stroke-width="1" opacity="0.6"/>
<circle cx="264.1" cy="699.6" r="2.3" fill="#10a050" stroke="none" stroke-width="1" />
<circle cx="264.1" cy="717.6" r="2.3" fill="#10a050" stroke="none" stroke-width="1" />
<path d="M286.0,681.0 L286.0,662.8 Q286.0,660.2 288.6,660.2 L296.0,660.2" fill="none" stroke="#8e8e8e" stroke-width="3.9"/>
<path d="M286.0,681.0 L286.0,662.8 Q286.0,660.2 288.6,660.2 L296.0,660.2" fill="none" stroke="#dddddd" stroke-width="2.2"/>
<polyline points="226.0,688.6 243.5,688.6" fill="none" stroke="#8ed4bc" stroke-width="2.2" />
<polygon points="224.4,688.6 231.0,685.4 231.0,691.8" fill="#8ed4bc" stroke="none" stroke-width="1" />
<rect x="244.2" y="685.6" width="8.6" height="5.8" fill="#f0f0f0" stroke="#222" stroke-width="1.3" />
<polyline points="248.5,683.0 248.5,691.4" fill="none" stroke="#222" stroke-width="1.2" />
<polyline points="246.0,683.2 251.0,683.2" fill="none" stroke="#222" stroke-width="1.2" />
<polyline points="252.6,688.6 257.3,688.6" fill="none" stroke="#555" stroke-width="1.6" />
<text x="227.2" y="680.6" font-size="5.6" fill="#777" text-anchor="start" font-family='"Liberation Sans","Noto Sans CJK SC",sans-serif' font-weight="normal" letter-spacing="0.8">药剂投加</text>
<rect x="203.8" y="698.4" width="9.7" height="10.2" fill="#111" stroke="none" stroke-width="1" />
<rect x="207.5" y="700.6" width="4.1" height="4.9" fill="#f4f4f4" stroke="none" stroke-width="1" />
<rect x="213.5" y="699.6" width="9.0" height="8.2" fill="#3e4a46" stroke="#111" stroke-width="0.6" />
<rect x="215.8" y="700.6" width="3.7" height="5.3" fill="#cfe0da" stroke="none" stroke-width="1" />
<circle cx="219.9" cy="696.6" r="1.1" fill="#111" stroke="none" stroke-width="1" />
<circle cx="222.1" cy="700.2" r="1.1" fill="#111" stroke="none" stroke-width="1" />
<rect x="203.8" y="716.5" width="9.7" height="10.2" fill="#111" stroke="none" stroke-width="1" />
<rect x="207.5" y="718.7" width="4.1" height="4.9" fill="#f4f4f4" stroke="none" stroke-width="1" />
<rect x="213.5" y="717.7" width="9.0" height="8.2" fill="#3e4a46" stroke="#111" stroke-width="0.6" />
<rect x="215.8" y="718.7" width="3.7" height="5.3" fill="#cfe0da" stroke="none" stroke-width="1" />
<circle cx="219.9" cy="714.7" r="1.1" fill="#111" stroke="none" stroke-width="1" />
<circle cx="222.1" cy="718.3" r="1.1" fill="#111" stroke="none" stroke-width="1" />
<rect x="197.2" y="732.1" width="30.5" height="12.4" fill="#fbfbfb" stroke="#a8a8a8" stroke-width="0.9" />
<text x="212.4" y="741.0" font-size="7.4" fill="#3a3a3a" text-anchor="middle" font-family='"Liberation Sans","Noto Sans CJK SC",sans-serif' font-weight="bold" >清洗泵</text>
<rect x="263.0" y="732.1" width="31.6" height="12.4" fill="#fbfbfb" stroke="#a8a8a8" stroke-width="0.9" />
<text x="278.8" y="741.0" font-size="7.4" fill="#3a3a3a" text-anchor="middle" font-family='"Liberation Sans","Noto Sans CJK SC",sans-serif' font-weight="bold" >清水池</text>
<rect x="503.3" y="680.7" width="11.8" height="13.7" fill="#151515" stroke="none" stroke-width="1" rx="1.6"/>
<rect x="506.3" y="694.2" width="6.4" height="12.8" fill="#d4b4a6" stroke="#6a4a3e" stroke-width="0.7" />
<polygon points="514.1,708.0 529.1,696.2 529.1,722.6 514.1,722.6" fill="#d46c14" stroke="#8a4208" stroke-width="0.6" />
<path d="M524.6,722.6 L524.6,703 Q524.6,695.6 531.1,695.6 L538.1,695.6 Q545.4,695.6 545.4,704 L545.4,722.6 Z" fill="url(#gOr)" stroke="#c0640c" stroke-width="0.6" />
<path d="M502.1,721.8 L502.1,712 Q502.1,706.3 507.1,706.3 L513.1,706.3 Q518.3,706.8 518.3,714 L518.3,721.8 Z" fill="#17130f" stroke="none" stroke-width="1" />
<rect x="502.4" y="721.6" width="42.9" height="3.6" fill="#55504a" stroke="none" stroke-width="1" />
<circle cx="511.1" cy="714.0" r="4.4" fill="#d8d2c6" stroke="none" stroke-width="1" />
<circle cx="511.1" cy="714.0" r="2.3" fill="#1c1814" stroke="none" stroke-width="1" />
<rect x="519.7" y="712.5" width="1.8" height="2.5" fill="#efe6da" stroke="none" stroke-width="1" />
<rect x="519.7" y="716.8" width="1.8" height="2.4" fill="#efe6da" stroke="none" stroke-width="1" />
<rect x="558.6" y="680.7" width="11.8" height="13.7" fill="#151515" stroke="none" stroke-width="1" rx="1.6"/>
<rect x="561.6" y="694.2" width="6.4" height="12.8" fill="#d4b4a6" stroke="#6a4a3e" stroke-width="0.7" />
<polygon points="569.4,708.0 584.4,696.2 584.4,722.6 569.4,722.6" fill="#d46c14" stroke="#8a4208" stroke-width="0.6" />
<path d="M579.9,722.6 L579.9,703 Q579.9,695.6 586.4,695.6 L593.4,695.6 Q600.7,695.6 600.7,704 L600.7,722.6 Z" fill="url(#gOr)" stroke="#c0640c" stroke-width="0.6" />
<path d="M557.4,721.8 L557.4,712 Q557.4,706.3 562.4,706.3 L568.4,706.3 Q573.6,706.8 573.6,714 L573.6,721.8 Z" fill="#17130f" stroke="none" stroke-width="1" />
<rect x="557.7" y="721.6" width="42.9" height="3.6" fill="#55504a" stroke="none" stroke-width="1" />
<circle cx="566.4" cy="714.0" r="4.4" fill="#d8d2c6" stroke="none" stroke-width="1" />
<circle cx="566.4" cy="714.0" r="2.3" fill="#1c1814" stroke="none" stroke-width="1" />
<rect x="575.0" y="712.5" width="1.8" height="2.5" fill="#efe6da" stroke="none" stroke-width="1" />
<rect x="575.0" y="716.8" width="1.8" height="2.4" fill="#efe6da" stroke="none" stroke-width="1" />
<rect x="613.6" y="680.7" width="11.8" height="13.7" fill="#151515" stroke="none" stroke-width="1" rx="1.6"/>
<rect x="616.6" y="694.2" width="6.4" height="12.8" fill="#d4b4a6" stroke="#6a4a3e" stroke-width="0.7" />
<polygon points="624.4,708.0 639.4,696.2 639.4,722.6 624.4,722.6" fill="#d46c14" stroke="#8a4208" stroke-width="0.6" />
<path d="M634.9,722.6 L634.9,703 Q634.9,695.6 641.4,695.6 L648.4,695.6 Q655.7,695.6 655.7,704 L655.7,722.6 Z" fill="url(#gOr)" stroke="#c0640c" stroke-width="0.6" />
<path d="M612.4,721.8 L612.4,712 Q612.4,706.3 617.4,706.3 L623.4,706.3 Q628.6,706.8 628.6,714 L628.6,721.8 Z" fill="#17130f" stroke="none" stroke-width="1" />
<rect x="612.7" y="721.6" width="42.9" height="3.6" fill="#55504a" stroke="none" stroke-width="1" />
<circle cx="621.4" cy="714.0" r="4.4" fill="#d8d2c6" stroke="none" stroke-width="1" />
<circle cx="621.4" cy="714.0" r="2.3" fill="#1c1814" stroke="none" stroke-width="1" />
<rect x="630.0" y="712.5" width="1.8" height="2.5" fill="#efe6da" stroke="none" stroke-width="1" />
<rect x="630.0" y="716.8" width="1.8" height="2.4" fill="#efe6da" stroke="none" stroke-width="1" />
<rect x="557.3" y="730.8" width="43.0" height="12.4" fill="#fbfbfb" stroke="#a8a8a8" stroke-width="0.9" />
<text x="578.8" y="739.6" font-size="7.2" fill="#3a3a3a" text-anchor="middle" font-family='"Liberation Sans","Noto Sans CJK SC",sans-serif' font-weight="bold" >好氧池风机</text>
</g>
</svg>
<p id="cap">焦化废水处理工艺</p>
</body></html>
